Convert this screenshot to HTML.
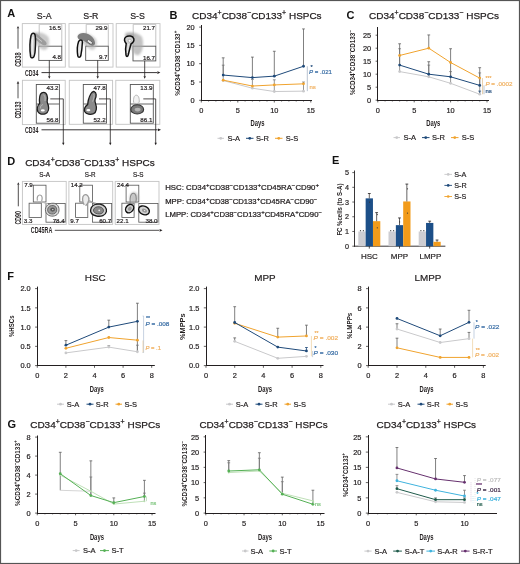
<!DOCTYPE html>
<html><head><meta charset="utf-8"><style>
html,body{margin:0;padding:0;background:#fff;width:520px;height:564px;overflow:hidden}
svg{display:block;font-family:"Liberation Sans", sans-serif;will-change:transform}
</style></head><body>
<svg width="520" height="564" viewBox="0 0 520 564">
<rect x="0.5" y="0.5" width="519" height="563" fill="none" stroke="#555" stroke-width="1.2"/>
<text x="7.30" y="17.40" font-size="11" fill="#111" font-weight="bold">A</text>
<text x="169.60" y="18.90" font-size="11" fill="#111" font-weight="bold">B</text>
<text x="346.50" y="18.50" font-size="11" fill="#111" font-weight="bold">C</text>
<text x="7.30" y="165.20" font-size="11" fill="#111" font-weight="bold">D</text>
<text x="332.00" y="164.00" font-size="11" fill="#111" font-weight="bold">E</text>
<text x="7.30" y="280.00" font-size="11" fill="#111" font-weight="bold">F</text>
<text x="7.50" y="427.80" font-size="11" fill="#111" font-weight="bold">G</text>
<text x="192.10" y="19.40" font-size="9.95" fill="#231f20" stroke="#231f20" stroke-width="0.25" textLength="129.5" lengthAdjust="spacingAndGlyphs"><tspan>CD34</tspan><tspan font-size="6.96" baseline-shift="3.78">+</tspan><tspan>CD38</tspan><tspan font-size="6.96" baseline-shift="3.78">&#8722;</tspan><tspan>CD133</tspan><tspan font-size="6.96" baseline-shift="3.78">+</tspan><tspan> HSPCs</tspan></text>
<line x1="201.50" y1="25.00" x2="201.50" y2="101.00" stroke="#231f20" stroke-width="1.0" />
<line x1="201.00" y1="100.50" x2="312.00" y2="100.50" stroke="#231f20" stroke-width="1.0" />
<line x1="201.30" y1="100.30" x2="201.30" y2="102.50" stroke="#231f20" stroke-width="0.7" />
<text x="201.30" y="112.90" font-size="7.4" fill="#231f20" stroke="#231f20" stroke-width="0.2" text-anchor="middle">0</text>
<line x1="237.80" y1="100.30" x2="237.80" y2="102.50" stroke="#231f20" stroke-width="0.7" />
<text x="237.80" y="112.90" font-size="7.4" fill="#231f20" stroke="#231f20" stroke-width="0.2" text-anchor="middle">5</text>
<line x1="274.30" y1="100.30" x2="274.30" y2="102.50" stroke="#231f20" stroke-width="0.7" />
<text x="274.30" y="112.90" font-size="7.4" fill="#231f20" stroke="#231f20" stroke-width="0.2" text-anchor="middle">10</text>
<line x1="310.80" y1="100.30" x2="310.80" y2="102.50" stroke="#231f20" stroke-width="0.7" />
<text x="310.80" y="112.90" font-size="7.4" fill="#231f20" stroke="#231f20" stroke-width="0.2" text-anchor="middle">15</text>
<line x1="208.60" y1="100.30" x2="208.60" y2="101.60" stroke="#231f20" stroke-width="0.6" />
<line x1="215.90" y1="100.30" x2="215.90" y2="101.60" stroke="#231f20" stroke-width="0.6" />
<line x1="223.20" y1="100.30" x2="223.20" y2="101.60" stroke="#231f20" stroke-width="0.6" />
<line x1="230.50" y1="100.30" x2="230.50" y2="101.60" stroke="#231f20" stroke-width="0.6" />
<line x1="245.10" y1="100.30" x2="245.10" y2="101.60" stroke="#231f20" stroke-width="0.6" />
<line x1="252.40" y1="100.30" x2="252.40" y2="101.60" stroke="#231f20" stroke-width="0.6" />
<line x1="259.70" y1="100.30" x2="259.70" y2="101.60" stroke="#231f20" stroke-width="0.6" />
<line x1="267.00" y1="100.30" x2="267.00" y2="101.60" stroke="#231f20" stroke-width="0.6" />
<line x1="281.60" y1="100.30" x2="281.60" y2="101.60" stroke="#231f20" stroke-width="0.6" />
<line x1="288.90" y1="100.30" x2="288.90" y2="101.60" stroke="#231f20" stroke-width="0.6" />
<line x1="296.20" y1="100.30" x2="296.20" y2="101.60" stroke="#231f20" stroke-width="0.6" />
<line x1="303.50" y1="100.30" x2="303.50" y2="101.60" stroke="#231f20" stroke-width="0.6" />
<line x1="199.10" y1="100.30" x2="201.30" y2="100.30" stroke="#231f20" stroke-width="0.7" />
<text x="194.70" y="103.00" font-size="7.4" fill="#231f20" stroke="#231f20" stroke-width="0.2" text-anchor="end">0</text>
<line x1="199.10" y1="82.00" x2="201.30" y2="82.00" stroke="#231f20" stroke-width="0.7" />
<text x="194.70" y="84.70" font-size="7.4" fill="#231f20" stroke="#231f20" stroke-width="0.2" text-anchor="end">5</text>
<line x1="199.10" y1="63.70" x2="201.30" y2="63.70" stroke="#231f20" stroke-width="0.7" />
<text x="194.70" y="66.40" font-size="7.4" fill="#231f20" stroke="#231f20" stroke-width="0.2" text-anchor="end">10</text>
<line x1="199.10" y1="45.40" x2="201.30" y2="45.40" stroke="#231f20" stroke-width="0.7" />
<text x="194.70" y="48.10" font-size="7.4" fill="#231f20" stroke="#231f20" stroke-width="0.2" text-anchor="end">15</text>
<line x1="199.10" y1="27.10" x2="201.30" y2="27.10" stroke="#231f20" stroke-width="0.7" />
<text x="194.70" y="29.80" font-size="7.4" fill="#231f20" stroke="#231f20" stroke-width="0.2" text-anchor="end">20</text>
<text x="179.60" y="63.30" font-size="7.59" fill="#231f20" font-weight="bold" text-anchor="middle" textLength="65" lengthAdjust="spacingAndGlyphs" transform="rotate(-90 179.60 63.30)"><tspan>%CD34</tspan><tspan font-size="5.31" baseline-shift="2.88">+</tspan><tspan>CD38</tspan><tspan font-size="5.31" baseline-shift="2.88">&#8722;</tspan><tspan>CD133</tspan><tspan font-size="5.31" baseline-shift="2.88">+</tspan></text>
<text x="257.50" y="126.30" font-size="8.6" fill="#231f20" text-anchor="middle" font-weight="bold" textLength="14" lengthAdjust="spacingAndGlyphs">Days</text>
<line x1="223.20" y1="75.41" x2="223.20" y2="57.84" stroke="#606060" stroke-width="0.8" />
<line x1="221.80" y1="57.84" x2="224.60" y2="57.84" stroke="#606060" stroke-width="0.8" />
<line x1="252.40" y1="77.61" x2="252.40" y2="57.11" stroke="#606060" stroke-width="0.8" />
<line x1="251.00" y1="57.11" x2="253.80" y2="57.11" stroke="#606060" stroke-width="0.8" />
<line x1="274.30" y1="76.51" x2="274.30" y2="51.26" stroke="#606060" stroke-width="0.8" />
<line x1="272.90" y1="51.26" x2="275.70" y2="51.26" stroke="#606060" stroke-width="0.8" />
<line x1="303.50" y1="66.26" x2="303.50" y2="28.93" stroke="#606060" stroke-width="0.8" />
<line x1="302.10" y1="28.93" x2="304.90" y2="28.93" stroke="#606060" stroke-width="0.8" />
<line x1="223.20" y1="80.90" x2="223.20" y2="65.16" stroke="#6a6a6a" stroke-width="0.7" />
<line x1="221.80" y1="65.16" x2="224.60" y2="65.16" stroke="#6a6a6a" stroke-width="0.7" />
<line x1="252.40" y1="88.22" x2="252.40" y2="79.44" stroke="#6a6a6a" stroke-width="0.7" />
<line x1="251.00" y1="79.44" x2="253.80" y2="79.44" stroke="#6a6a6a" stroke-width="0.7" />
<line x1="274.30" y1="91.52" x2="274.30" y2="79.80" stroke="#6a6a6a" stroke-width="0.7" />
<line x1="272.90" y1="79.80" x2="275.70" y2="79.80" stroke="#6a6a6a" stroke-width="0.7" />
<line x1="303.50" y1="91.15" x2="303.50" y2="82.00" stroke="#6a6a6a" stroke-width="0.7" />
<line x1="302.10" y1="82.00" x2="304.90" y2="82.00" stroke="#6a6a6a" stroke-width="0.7" />
<polyline points="223.20,80.54 252.40,88.22 274.30,91.52 303.50,91.15" stroke="#c9c9cb" stroke-width="1.0" fill="none" stroke-linejoin="round" />
<circle cx="223.20" cy="80.54" r="1.4" fill="#c9c9cb" />
<circle cx="252.40" cy="88.22" r="1.4" fill="#c9c9cb" />
<circle cx="274.30" cy="91.52" r="1.4" fill="#c9c9cb" />
<circle cx="303.50" cy="91.15" r="1.4" fill="#c9c9cb" />
<polyline points="223.20,80.17 252.40,86.03 274.30,84.93 303.50,83.83" stroke="#f0a32e" stroke-width="1.0" fill="none" stroke-linejoin="round" />
<circle cx="223.20" cy="80.17" r="1.4" fill="#f0a32e" />
<circle cx="252.40" cy="86.03" r="1.4" fill="#f0a32e" />
<circle cx="274.30" cy="84.93" r="1.4" fill="#f0a32e" />
<circle cx="303.50" cy="83.83" r="1.4" fill="#f0a32e" />
<polyline points="223.20,75.05 252.40,77.61 274.30,76.14 303.50,66.26" stroke="#1f4a7a" stroke-width="1.0" fill="none" stroke-linejoin="round" />
<circle cx="223.20" cy="75.05" r="1.4" fill="#1f4a7a" />
<circle cx="252.40" cy="77.61" r="1.4" fill="#1f4a7a" />
<circle cx="274.30" cy="76.14" r="1.4" fill="#1f4a7a" />
<circle cx="303.50" cy="66.26" r="1.4" fill="#1f4a7a" />
<line x1="307.30" y1="66.26" x2="307.30" y2="91.15" stroke="#8a9ab0" stroke-width="0.6" />
<text x="310.50" y="68.50" font-size="5.5" fill="#1f4a7a" stroke="#1f4a7a" stroke-width="0.2">*</text>
<text x="309.00" y="74.20" font-size="6.2" fill="#3a6ea5" stroke="#3a6ea5" stroke-width="0.2" textLength="23" lengthAdjust="spacingAndGlyphs"><tspan font-style="italic">P</tspan> = .021</text>
<text x="309.50" y="88.60" font-size="6.0" fill="#f0b060" stroke="#f0b060" stroke-width="0.2">ns</text>
<line x1="217.50" y1="138.30" x2="224.00" y2="138.30" stroke="#c9c9cb" stroke-width="1.0" />
<circle cx="220.75" cy="138.30" r="1.4" fill="#c9c9cb" />
<text x="227.50" y="141.00" font-size="7.5" fill="#231f20" stroke="#231f20" stroke-width="0.2">S-A</text>
<line x1="246.00" y1="138.30" x2="253.50" y2="138.30" stroke="#1f4a7a" stroke-width="1.0" />
<circle cx="249.75" cy="138.30" r="1.4" fill="#1f4a7a" />
<text x="256.00" y="141.00" font-size="7.5" fill="#231f20" stroke="#231f20" stroke-width="0.2">S-R</text>
<line x1="275.00" y1="138.30" x2="282.50" y2="138.30" stroke="#f0a32e" stroke-width="1.0" />
<circle cx="278.75" cy="138.30" r="1.4" fill="#f0a32e" />
<text x="285.70" y="141.00" font-size="7.5" fill="#231f20" stroke="#231f20" stroke-width="0.2">S-S</text>
<text x="369.00" y="19.20" font-size="9.95" fill="#231f20" stroke="#231f20" stroke-width="0.25" textLength="130" lengthAdjust="spacingAndGlyphs"><tspan>CD34</tspan><tspan font-size="6.96" baseline-shift="3.78">+</tspan><tspan>CD38</tspan><tspan font-size="6.96" baseline-shift="3.78">&#8722;</tspan><tspan>CD133</tspan><tspan font-size="6.96" baseline-shift="3.78">&#8722;</tspan><tspan> HSPCs</tspan></text>
<line x1="377.50" y1="27.00" x2="377.50" y2="101.00" stroke="#231f20" stroke-width="1.0" />
<line x1="377.00" y1="100.50" x2="489.00" y2="100.50" stroke="#231f20" stroke-width="1.0" />
<line x1="377.80" y1="100.20" x2="377.80" y2="102.40" stroke="#231f20" stroke-width="0.7" />
<text x="377.80" y="112.80" font-size="7.4" fill="#231f20" stroke="#231f20" stroke-width="0.2" text-anchor="middle">0</text>
<line x1="414.20" y1="100.20" x2="414.20" y2="102.40" stroke="#231f20" stroke-width="0.7" />
<text x="414.20" y="112.80" font-size="7.4" fill="#231f20" stroke="#231f20" stroke-width="0.2" text-anchor="middle">5</text>
<line x1="450.60" y1="100.20" x2="450.60" y2="102.40" stroke="#231f20" stroke-width="0.7" />
<text x="450.60" y="112.80" font-size="7.4" fill="#231f20" stroke="#231f20" stroke-width="0.2" text-anchor="middle">10</text>
<line x1="487.00" y1="100.20" x2="487.00" y2="102.40" stroke="#231f20" stroke-width="0.7" />
<text x="487.00" y="112.80" font-size="7.4" fill="#231f20" stroke="#231f20" stroke-width="0.2" text-anchor="middle">15</text>
<line x1="385.08" y1="100.20" x2="385.08" y2="101.50" stroke="#231f20" stroke-width="0.6" />
<line x1="392.36" y1="100.20" x2="392.36" y2="101.50" stroke="#231f20" stroke-width="0.6" />
<line x1="399.64" y1="100.20" x2="399.64" y2="101.50" stroke="#231f20" stroke-width="0.6" />
<line x1="406.92" y1="100.20" x2="406.92" y2="101.50" stroke="#231f20" stroke-width="0.6" />
<line x1="421.48" y1="100.20" x2="421.48" y2="101.50" stroke="#231f20" stroke-width="0.6" />
<line x1="428.76" y1="100.20" x2="428.76" y2="101.50" stroke="#231f20" stroke-width="0.6" />
<line x1="436.04" y1="100.20" x2="436.04" y2="101.50" stroke="#231f20" stroke-width="0.6" />
<line x1="443.32" y1="100.20" x2="443.32" y2="101.50" stroke="#231f20" stroke-width="0.6" />
<line x1="457.88" y1="100.20" x2="457.88" y2="101.50" stroke="#231f20" stroke-width="0.6" />
<line x1="465.16" y1="100.20" x2="465.16" y2="101.50" stroke="#231f20" stroke-width="0.6" />
<line x1="472.44" y1="100.20" x2="472.44" y2="101.50" stroke="#231f20" stroke-width="0.6" />
<line x1="479.72" y1="100.20" x2="479.72" y2="101.50" stroke="#231f20" stroke-width="0.6" />
<line x1="375.60" y1="100.20" x2="377.80" y2="100.20" stroke="#231f20" stroke-width="0.7" />
<text x="371.20" y="102.90" font-size="7.4" fill="#231f20" stroke="#231f20" stroke-width="0.2" text-anchor="end">0</text>
<line x1="375.60" y1="87.20" x2="377.80" y2="87.20" stroke="#231f20" stroke-width="0.7" />
<text x="371.20" y="89.90" font-size="7.4" fill="#231f20" stroke="#231f20" stroke-width="0.2" text-anchor="end">5</text>
<line x1="375.60" y1="74.20" x2="377.80" y2="74.20" stroke="#231f20" stroke-width="0.7" />
<text x="371.20" y="76.90" font-size="7.4" fill="#231f20" stroke="#231f20" stroke-width="0.2" text-anchor="end">10</text>
<line x1="375.60" y1="61.20" x2="377.80" y2="61.20" stroke="#231f20" stroke-width="0.7" />
<text x="371.20" y="63.90" font-size="7.4" fill="#231f20" stroke="#231f20" stroke-width="0.2" text-anchor="end">15</text>
<line x1="375.60" y1="48.20" x2="377.80" y2="48.20" stroke="#231f20" stroke-width="0.7" />
<text x="371.20" y="50.90" font-size="7.4" fill="#231f20" stroke="#231f20" stroke-width="0.2" text-anchor="end">20</text>
<line x1="375.60" y1="35.20" x2="377.80" y2="35.20" stroke="#231f20" stroke-width="0.7" />
<text x="371.20" y="37.90" font-size="7.4" fill="#231f20" stroke="#231f20" stroke-width="0.2" text-anchor="end">25</text>
<text x="355.50" y="62.60" font-size="7.59" fill="#231f20" font-weight="bold" text-anchor="middle" textLength="65" lengthAdjust="spacingAndGlyphs" transform="rotate(-90 355.50 62.60)"><tspan>%CD34</tspan><tspan font-size="5.31" baseline-shift="2.88">+</tspan><tspan>CD38</tspan><tspan font-size="5.31" baseline-shift="2.88">&#8722;</tspan><tspan>CD133</tspan><tspan font-size="5.31" baseline-shift="2.88">&#8722;</tspan></text>
<text x="433.30" y="126.30" font-size="8.6" fill="#231f20" text-anchor="middle" font-weight="bold" textLength="14" lengthAdjust="spacingAndGlyphs">Days</text>
<line x1="399.64" y1="65.10" x2="399.64" y2="43.78" stroke="#606060" stroke-width="0.8" />
<line x1="398.24" y1="43.78" x2="401.04" y2="43.78" stroke="#606060" stroke-width="0.8" />
<line x1="428.76" y1="74.20" x2="428.76" y2="61.72" stroke="#606060" stroke-width="0.8" />
<line x1="427.36" y1="61.72" x2="430.16" y2="61.72" stroke="#606060" stroke-width="0.8" />
<line x1="450.60" y1="76.80" x2="450.60" y2="48.72" stroke="#606060" stroke-width="0.8" />
<line x1="449.20" y1="48.72" x2="452.00" y2="48.72" stroke="#606060" stroke-width="0.8" />
<line x1="479.72" y1="85.38" x2="479.72" y2="67.70" stroke="#606060" stroke-width="0.8" />
<line x1="478.32" y1="67.70" x2="481.12" y2="67.70" stroke="#606060" stroke-width="0.8" />
<line x1="399.64" y1="71.60" x2="399.64" y2="48.72" stroke="#6a6a6a" stroke-width="0.7" />
<line x1="398.24" y1="48.72" x2="401.04" y2="48.72" stroke="#6a6a6a" stroke-width="0.7" />
<line x1="428.76" y1="76.80" x2="428.76" y2="65.10" stroke="#6a6a6a" stroke-width="0.7" />
<line x1="427.36" y1="65.10" x2="430.16" y2="65.10" stroke="#6a6a6a" stroke-width="0.7" />
<line x1="450.60" y1="83.30" x2="450.60" y2="71.60" stroke="#6a6a6a" stroke-width="0.7" />
<line x1="449.20" y1="71.60" x2="452.00" y2="71.60" stroke="#6a6a6a" stroke-width="0.7" />
<line x1="479.72" y1="94.22" x2="479.72" y2="72.90" stroke="#6a6a6a" stroke-width="0.7" />
<line x1="478.32" y1="72.90" x2="481.12" y2="72.90" stroke="#6a6a6a" stroke-width="0.7" />
<line x1="428.76" y1="48.20" x2="428.76" y2="34.94" stroke="#606060" stroke-width="0.8" />
<line x1="427.36" y1="34.94" x2="430.16" y2="34.94" stroke="#606060" stroke-width="0.8" />
<line x1="479.72" y1="94.22" x2="479.72" y2="91.10" stroke="#1f4a7a" stroke-width="0.8" />
<line x1="478.32" y1="91.10" x2="481.12" y2="91.10" stroke="#1f4a7a" stroke-width="0.8" />
<polyline points="399.64,71.60 428.76,76.80 450.60,83.30 479.72,94.22" stroke="#c9c9cb" stroke-width="1.0" fill="none" stroke-linejoin="round" />
<circle cx="399.64" cy="71.60" r="1.4" fill="#c9c9cb" />
<circle cx="428.76" cy="76.80" r="1.4" fill="#c9c9cb" />
<circle cx="450.60" cy="83.30" r="1.4" fill="#c9c9cb" />
<circle cx="479.72" cy="94.22" r="1.4" fill="#c9c9cb" />
<polyline points="399.64,65.10 428.76,74.20 450.60,76.80 479.72,85.38" stroke="#1f4a7a" stroke-width="1.0" fill="none" stroke-linejoin="round" />
<circle cx="399.64" cy="65.10" r="1.4" fill="#1f4a7a" />
<circle cx="428.76" cy="74.20" r="1.4" fill="#1f4a7a" />
<circle cx="450.60" cy="76.80" r="1.4" fill="#1f4a7a" />
<circle cx="479.72" cy="85.38" r="1.4" fill="#1f4a7a" />
<polyline points="399.64,55.48 428.76,48.20 450.60,62.50 479.72,78.10" stroke="#f0a32e" stroke-width="1.0" fill="none" stroke-linejoin="round" />
<circle cx="399.64" cy="55.48" r="1.4" fill="#f0a32e" />
<circle cx="428.76" cy="48.20" r="1.4" fill="#f0a32e" />
<circle cx="450.60" cy="62.50" r="1.4" fill="#f0a32e" />
<circle cx="479.72" cy="78.10" r="1.4" fill="#f0a32e" />
<line x1="482.50" y1="78.10" x2="482.50" y2="94.22" stroke="#d9b27a" stroke-width="0.6" />
<line x1="484.00" y1="85.38" x2="484.00" y2="94.22" stroke="#8a9ab0" stroke-width="0.6" />
<text x="485.50" y="80.00" font-size="5.0" fill="#f0b060" stroke="#f0b060" stroke-width="0.2">***</text>
<text x="485.40" y="86.20" font-size="6.2" fill="#f0b060" stroke="#f0b060" stroke-width="0.2" textLength="27" lengthAdjust="spacingAndGlyphs"><tspan font-style="italic">P</tspan> = .0002</text>
<text x="485.50" y="93.20" font-size="6.0" fill="#1f4a7a" stroke="#1f4a7a" stroke-width="0.2">ns</text>
<line x1="393.50" y1="137.60" x2="400.00" y2="137.60" stroke="#c9c9cb" stroke-width="1.0" />
<circle cx="396.75" cy="137.60" r="1.4" fill="#c9c9cb" />
<text x="403.50" y="140.30" font-size="7.5" fill="#231f20" stroke="#231f20" stroke-width="0.2">S-A</text>
<line x1="422.00" y1="137.60" x2="429.50" y2="137.60" stroke="#1f4a7a" stroke-width="1.0" />
<circle cx="425.75" cy="137.60" r="1.4" fill="#1f4a7a" />
<text x="432.00" y="140.30" font-size="7.5" fill="#231f20" stroke="#231f20" stroke-width="0.2">S-R</text>
<line x1="451.00" y1="137.60" x2="458.50" y2="137.60" stroke="#f0a32e" stroke-width="1.0" />
<circle cx="454.75" cy="137.60" r="1.4" fill="#f0a32e" />
<text x="461.70" y="140.30" font-size="7.5" fill="#231f20" stroke="#231f20" stroke-width="0.2">S-S</text>
<text x="44.20" y="19.20" font-size="8.8" fill="#231f20" stroke="#231f20" stroke-width="0.2" text-anchor="middle">S-A</text>
<text x="90.90" y="19.20" font-size="8.8" fill="#231f20" stroke="#231f20" stroke-width="0.2" text-anchor="middle">S-R</text>
<text x="137.60" y="19.20" font-size="8.8" fill="#231f20" stroke="#231f20" stroke-width="0.2" text-anchor="middle">S-S</text>
<defs><filter id="bl" x="-50%" y="-50%" width="200%" height="200%"><feGaussianBlur stdDeviation="1.3"/></filter><filter id="bl2" x="-50%" y="-50%" width="200%" height="200%"><feGaussianBlur stdDeviation="0.6"/></filter></defs>
<rect x="22.30" y="23.60" width="43.00" height="43.50" stroke="#c4c4c4" stroke-width="0.9" fill="none" />
<rect x="69.00" y="23.60" width="44.00" height="43.50" stroke="#c4c4c4" stroke-width="0.9" fill="none" />
<rect x="116.20" y="23.60" width="43.80" height="43.50" stroke="#c4c4c4" stroke-width="0.9" fill="none" />
<path d="M39.2,46.2 L39.2,24.3 L61.8,24.3 L61.8,46.2" stroke="#bdbdbd" stroke-width="0.9" fill="none" />
<rect x="38.80" y="46.20" width="23.00" height="14.20" stroke="#555555" stroke-width="0.9" fill="none" />
<text x="61.00" y="30.30" font-size="6.2" fill="#231f20" stroke="#231f20" stroke-width="0.2" text-anchor="end">16.5</text>
<text x="61.00" y="59.40" font-size="6.2" fill="#231f20" stroke="#231f20" stroke-width="0.2" text-anchor="end">4.8</text>
<line x1="49.30" y1="60.40" x2="49.30" y2="76.50" stroke="#231f20" stroke-width="0.8" />
<path d="M49.30,78.80 L48.10,76.24 L50.50,76.24 Z" stroke="none" stroke-width="1" fill="#231f20" />
<path d="M86.2,46.2 L86.2,24.3 L108.3,24.3 L108.3,46.2" stroke="#bdbdbd" stroke-width="0.9" fill="none" />
<rect x="85.70" y="46.20" width="22.60" height="14.20" stroke="#555555" stroke-width="0.9" fill="none" />
<text x="107.50" y="30.30" font-size="6.2" fill="#231f20" stroke="#231f20" stroke-width="0.2" text-anchor="end">29.9</text>
<text x="107.50" y="59.40" font-size="6.2" fill="#231f20" stroke="#231f20" stroke-width="0.2" text-anchor="end">9.7</text>
<line x1="97.70" y1="60.40" x2="97.70" y2="76.50" stroke="#231f20" stroke-width="0.8" />
<path d="M97.70,78.80 L96.50,76.24 L98.90,76.24 Z" stroke="none" stroke-width="1" fill="#231f20" />
<path d="M133.2,46.2 L133.2,24.3 L155.8,24.3 L155.8,46.2" stroke="#bdbdbd" stroke-width="0.9" fill="none" />
<rect x="133.00" y="46.20" width="22.80" height="14.70" stroke="#555555" stroke-width="0.9" fill="none" />
<text x="155.00" y="30.30" font-size="6.2" fill="#231f20" stroke="#231f20" stroke-width="0.2" text-anchor="end">21.7</text>
<text x="155.00" y="59.90" font-size="6.2" fill="#231f20" stroke="#231f20" stroke-width="0.2" text-anchor="end">16.7</text>
<line x1="144.70" y1="60.90" x2="144.70" y2="76.50" stroke="#231f20" stroke-width="0.8" />
<path d="M144.70,78.80 L143.50,76.24 L145.90,76.24 Z" stroke="none" stroke-width="1" fill="#231f20" />
<g filter="url(#bl)" opacity="0.7"><path d="M32,33 C38,31 45,33 48.5,37 C50,42 49,49 45,50 C41,50.5 37,46 35,41 Z" fill="#b4b4b4"/><ellipse cx="36" cy="36" rx="3.5" ry="3" fill="#999"/></g>
<g filter="url(#bl2)"><path d="M31.2,35 C32.4,32.2 35,32 37.4,34.2 L44.6,40.4 C47,42.4 47.4,44.6 45.2,45.2 C43,45.6 40,43.2 37.6,41.2 L35,39 Z" fill="#9c9c9c"/><path d="M34.4,35.6 L42,41.6" stroke="#d8d8d8" stroke-width="0.8"/></g>
<path d="M30.6,56.4 C29.6,49 29.8,41 31,35.6 C31.6,32.6 34.2,32.4 35,34.8 C35.8,38 35.6,44 35.2,50 C35,54 34.6,57.2 32.6,57.8 C31.6,58 30.8,57.4 30.6,56.4 Z" stroke="#141414" stroke-width="1.5" fill="#d4d4d4" filter="url(#bl2)"/>
<path d="M32.4,54.8 C32,48 32.2,42 33,37" stroke="#f6f6f6" stroke-width="0.9" fill="none" filter="url(#bl2)"/>
<g filter="url(#bl)" opacity="0.6"><path d="M78,35 C84,31 92,34 96,39 C98,44 96,50 92,50 C88,49 84,44 80,41 Z" fill="#b0b0b0"/></g>
<g filter="url(#bl2)"><path d="M77.6,36 C79,32.6 84,32.2 88,34 C92,36 95.2,39.6 95,43.6 C94.6,46 92,46 90,45 C87,43 84,40.6 81.6,40 C79.6,39.6 77.2,39 77.6,36 Z" fill="#7e7e7e"/></g>
<g filter="url(#bl2)"><ellipse cx="89.8" cy="42" rx="3.2" ry="1.5" transform="rotate(38 89.8 42)" fill="#e8e8e8" stroke="#555" stroke-width="0.8"/></g>
<path d="M77.8,55.8 C77,51 77.2,45.5 78.6,41.6 C79.6,39.4 82.4,39.4 82.4,42 C82.2,47 81.6,52 80.8,55.8 C80.2,57.8 78.2,57.8 77.8,55.8 Z" stroke="#111" stroke-width="1.5" fill="#e8e8e8" filter="url(#bl2)"/>
<g filter="url(#bl)" opacity="0.7"><path d="M125,33 C131,31 139,33 142,37 C144,43 143,52 139,55 C135,56 132,52 131,46 Z" fill="#a8a8a8"/><ellipse cx="130" cy="36" rx="5" ry="3" fill="#8a8a8a"/></g>
<path d="M126,55 C125.2,50.5 125.6,46.5 126.2,43.6 C124.2,41.6 123.8,38.4 125.8,37 C128.4,35.2 132.8,35.8 133.8,38.8 C134.4,41 132.6,43 131,44 C130,47.6 129,51.6 128.2,55 C127.6,57 126.4,57 126,55 Z" stroke="#111" stroke-width="1.5" fill="#d0d0d0" filter="url(#bl2)"/>
<path d="M128,39.8 C129.4,38.8 131.4,39.4 131.2,40.8 C131,42 129.6,42.4 128.6,42 Z" stroke="#888" stroke-width="0.5" fill="#fafafa" />
<path d="M127.4,53 C127.6,49 128.2,46 128.6,44" stroke="#f0f0f0" stroke-width="0.8" fill="none" filter="url(#bl2)"/>
<text x="38.40" y="75.70" font-size="8.2" fill="#231f20" text-anchor="end" font-weight="bold" textLength="13.4" lengthAdjust="spacingAndGlyphs">CD34</text>
<line x1="41.50" y1="72.60" x2="157.00" y2="72.60" stroke="#231f20" stroke-width="0.9" />
<path d="M160.40,72.60 L157.36,71.17 L157.36,74.02 Z" stroke="none" stroke-width="1" fill="#231f20" />
<text x="21.00" y="66.80" font-size="8.28" fill="#231f20" font-weight="bold" textLength="14.4" lengthAdjust="spacingAndGlyphs" transform="rotate(-90 21.00 66.80)"><tspan>CD38</tspan></text>
<line x1="18.00" y1="48.70" x2="18.00" y2="29.00" stroke="#555" stroke-width="1.0" />
<path d="M18.00,25.90 L16.73,28.62 L19.27,28.62 Z" stroke="none" stroke-width="1" fill="#231f20" />
<rect x="22.40" y="80.30" width="42.80" height="44.30" stroke="#c4c4c4" stroke-width="0.9" fill="none" />
<rect x="69.30" y="80.30" width="43.30" height="44.00" stroke="#c4c4c4" stroke-width="0.9" fill="none" />
<rect x="115.80" y="80.30" width="44.00" height="44.00" stroke="#c4c4c4" stroke-width="0.9" fill="none" />
<rect x="36.30" y="84.50" width="23.10" height="38.70" stroke="#555555" stroke-width="0.9" fill="none" />
<line x1="36.30" y1="104.00" x2="59.40" y2="104.00" stroke="#555555" stroke-width="0.9" />
<text x="58.50" y="89.90" font-size="6.2" fill="#231f20" stroke="#231f20" stroke-width="0.2" text-anchor="end">43.2</text>
<text x="58.50" y="122.40" font-size="6.2" fill="#231f20" stroke="#231f20" stroke-width="0.2" text-anchor="end">56.8</text>
<path d="M50.3,98.9 L63.3,98.9 L63.3,143" stroke="#231f20" stroke-width="0.8" fill="none" />
<path d="M63.30,145.30 L62.10,142.74 L64.50,142.74 Z" stroke="none" stroke-width="1" fill="#231f20" />
<rect x="83.30" y="84.50" width="23.20" height="38.70" stroke="#555555" stroke-width="0.9" fill="none" />
<line x1="83.30" y1="104.00" x2="106.50" y2="104.00" stroke="#555555" stroke-width="0.9" />
<text x="105.60" y="89.90" font-size="6.2" fill="#231f20" stroke="#231f20" stroke-width="0.2" text-anchor="end">47.8</text>
<text x="105.60" y="122.40" font-size="6.2" fill="#231f20" stroke="#231f20" stroke-width="0.2" text-anchor="end">52.2</text>
<path d="M99.0,98.9 L110.3,98.9 L110.3,143" stroke="#231f20" stroke-width="0.8" fill="none" />
<path d="M110.30,145.30 L109.10,142.74 L111.50,142.74 Z" stroke="none" stroke-width="1" fill="#231f20" />
<rect x="130.30" y="84.50" width="23.00" height="38.70" stroke="#555555" stroke-width="0.9" fill="none" />
<line x1="130.30" y1="104.00" x2="153.30" y2="104.00" stroke="#555555" stroke-width="0.9" />
<text x="152.40" y="89.90" font-size="6.2" fill="#231f20" stroke="#231f20" stroke-width="0.2" text-anchor="end">13.9</text>
<text x="152.40" y="122.40" font-size="6.2" fill="#231f20" stroke="#231f20" stroke-width="0.2" text-anchor="end">86.1</text>
<path d="M143.3,98.9 L155.7,98.9 L155.7,143" stroke="#231f20" stroke-width="0.8" fill="none" />
<path d="M155.70,145.30 L154.50,142.74 L156.90,142.74 Z" stroke="none" stroke-width="1" fill="#231f20" />
<g filter="url(#bl2)"><path d="M43.6,92.4 C46.8,92.4 48,96.5 47.2,100.5 C46.8,102.2 47.6,103.2 48.2,105 C49.2,108.6 48.4,112.4 45.6,113.6 C42.6,114.8 39,114.2 37.8,111.6 C36.8,109 37.6,105.4 39.6,103.6 C39.8,102.6 39.4,101.6 39.4,100 C39.4,95.6 40.8,92.4 43.6,92.4 Z" fill="#8a8a8a" stroke="#1e1e1e" stroke-width="1.3"/><path d="M43.4,95 C45,95 45.4,98 45,101 M43,104.5 C41,105 40,107 40.6,108.4" fill="none" stroke="#c8c8c8" stroke-width="0.7"/><ellipse cx="42.8" cy="110.4" rx="2" ry="1.1" fill="#fff"/></g>
<g filter="url(#bl2)"><path d="M94.2,91.6 C96.6,92.4 96.6,96 95.2,99 C94.6,100.6 94.8,102.2 95.6,103.8 C97,107.6 96.6,112 93.6,113.6 C90.6,115 86.2,114.4 84.8,111.8 C83.8,109.4 85,106 87.6,104.6 C88,103.8 87.8,102.2 88.4,100 C89.6,95.4 91.8,90.8 94.2,91.6 Z" fill="#8a8a8a" stroke="#1e1e1e" stroke-width="1.3"/><path d="M93.6,94 C94.6,95 94,98.4 92.6,101.6" fill="none" stroke="#c8c8c8" stroke-width="0.7"/><ellipse cx="88.4" cy="110.2" rx="2" ry="1.1" fill="#fff"/></g>
<g filter="url(#bl2)"><path d="M136.3,95.2 C138.4,95.2 139.6,98 139.2,102.4 C138.6,104 134,104 133.6,102.4 C133.2,98 134.2,95.2 136.3,95.2 Z" fill="#f2f2f2" stroke="#b0b0b0" stroke-width="0.9"/><ellipse cx="137.2" cy="109.4" rx="6.4" ry="4.6" fill="#7a7a7a" stroke="#333" stroke-width="1.1"/><ellipse cx="137.6" cy="109.6" rx="3" ry="1.8" fill="#b5b5b5"/></g>
<text x="38.40" y="133.00" font-size="8.2" fill="#231f20" text-anchor="end" font-weight="bold" textLength="13.4" lengthAdjust="spacingAndGlyphs">CD34</text>
<line x1="41.50" y1="129.80" x2="157.50" y2="129.80" stroke="#231f20" stroke-width="0.9" />
<path d="M161.00,129.80 L157.96,128.38 L157.96,131.23 Z" stroke="none" stroke-width="1" fill="#231f20" />
<text x="21.00" y="118.60" font-size="8.28" fill="#231f20" font-weight="bold" textLength="17.1" lengthAdjust="spacingAndGlyphs" transform="rotate(-90 21.00 118.60)"><tspan>CD133</tspan></text>
<line x1="18.00" y1="98.30" x2="18.00" y2="84.00" stroke="#555" stroke-width="1.0" />
<path d="M18.00,81.00 L16.73,83.72 L19.27,83.72 Z" stroke="none" stroke-width="1" fill="#231f20" />
<text x="25.20" y="165.60" font-size="9.95" fill="#231f20" stroke="#231f20" stroke-width="0.25" textLength="129.5" lengthAdjust="spacingAndGlyphs"><tspan>CD34</tspan><tspan font-size="6.96" baseline-shift="3.78">+</tspan><tspan>CD38</tspan><tspan font-size="6.96" baseline-shift="3.78">&#8722;</tspan><tspan>CD133</tspan><tspan font-size="6.96" baseline-shift="3.78">+</tspan><tspan> HSPCs</tspan></text>
<text x="44.60" y="176.80" font-size="6.3" fill="#231f20" stroke="#231f20" stroke-width="0.2" text-anchor="middle">S-A</text>
<text x="90.20" y="176.80" font-size="6.3" fill="#231f20" stroke="#231f20" stroke-width="0.2" text-anchor="middle">S-R</text>
<text x="138.20" y="176.80" font-size="6.3" fill="#231f20" stroke="#231f20" stroke-width="0.2" text-anchor="middle">S-S</text>
<rect x="22.40" y="181.40" width="43.80" height="43.00" stroke="#c4c4c4" stroke-width="0.9" fill="none" />
<rect x="68.90" y="181.40" width="43.80" height="43.00" stroke="#c4c4c4" stroke-width="0.9" fill="none" />
<rect x="115.20" y="181.40" width="43.80" height="43.00" stroke="#c4c4c4" stroke-width="0.9" fill="none" />
<rect x="33.30" y="185.20" width="12.70" height="16.80" stroke="#555555" stroke-width="0.8" fill="none" />
<rect x="29.10" y="203.20" width="12.20" height="14.20" stroke="#555555" stroke-width="0.8" fill="none" />
<rect x="46.00" y="203.50" width="19.20" height="18.70" stroke="#555555" stroke-width="0.8" fill="none" />
<text x="24.20" y="187.40" font-size="6.2" fill="#231f20" stroke="#231f20" stroke-width="0.2">7.9</text>
<text x="23.80" y="222.60" font-size="6.2" fill="#231f20" stroke="#231f20" stroke-width="0.2">3.3</text>
<text x="64.70" y="222.60" font-size="6.2" fill="#231f20" stroke="#231f20" stroke-width="0.2" text-anchor="end">78.4</text>
<rect x="79.80" y="185.20" width="12.70" height="16.80" stroke="#555555" stroke-width="0.8" fill="none" />
<rect x="75.60" y="203.20" width="12.20" height="14.20" stroke="#555555" stroke-width="0.8" fill="none" />
<rect x="92.50" y="203.50" width="19.20" height="18.70" stroke="#555555" stroke-width="0.8" fill="none" />
<text x="70.70" y="187.40" font-size="6.2" fill="#231f20" stroke="#231f20" stroke-width="0.2">14.2</text>
<text x="70.30" y="222.60" font-size="6.2" fill="#231f20" stroke="#231f20" stroke-width="0.2">9.7</text>
<text x="111.20" y="222.60" font-size="6.2" fill="#231f20" stroke="#231f20" stroke-width="0.2" text-anchor="end">60.7</text>
<rect x="126.10" y="185.20" width="12.70" height="16.80" stroke="#555555" stroke-width="0.8" fill="none" />
<rect x="121.90" y="203.20" width="12.20" height="14.20" stroke="#555555" stroke-width="0.8" fill="none" />
<rect x="138.80" y="203.50" width="19.20" height="18.70" stroke="#555555" stroke-width="0.8" fill="none" />
<text x="117.00" y="187.40" font-size="6.2" fill="#231f20" stroke="#231f20" stroke-width="0.2">24.4</text>
<text x="116.60" y="222.60" font-size="6.2" fill="#231f20" stroke="#231f20" stroke-width="0.2">22.1</text>
<text x="157.50" y="222.60" font-size="6.2" fill="#231f20" stroke="#231f20" stroke-width="0.2" text-anchor="end">38.0</text>
<g filter="url(#bl2)"><path d="M37.4,200.6 C36.6,197 38,194.8 40,195 C42.4,195.2 42.6,198.4 41.6,201" fill="none" stroke="#a0a0a0" stroke-width="1.2"/><path d="M41.6,201 C43.6,203.4 45.6,203.6 47.8,203.4" fill="none" stroke="#b8b8b8" stroke-width="1.1"/><path d="M45.4,209.4 C46,204.6 50.6,202.6 54.6,203.4 C58.6,204.4 59.8,209 58.6,212.4 C57.2,216 52.4,217 48.8,215.4 C46.6,214.2 45.2,212 45.4,209.4 Z" fill="#d8d8d8" stroke="#6a6a6a" stroke-width="1.0"/><path d="M47.6,209.4 C48,206.2 51,205 53.8,205.6 C56.6,206.4 57.2,209.4 56.4,211.6 C55.4,214 52.4,214.6 50,213.6 C48.4,212.8 47.4,211.2 47.6,209.4 Z" fill="#9a9a9a" stroke="#555" stroke-width="0.8"/><ellipse cx="52.6" cy="209.6" rx="2.4" ry="2.1" fill="#5a5a5a"/><circle cx="52.8" cy="209.6" r="0.7" fill="#f0f0f0"/></g>
<g filter="url(#bl2)"><path d="M84.2,204.8 C82,201.4 82,196.4 84.2,195 C86.6,193.6 89.4,196.4 88.8,200.2 C88.4,202.8 87,204.6 85.6,205.8" fill="#ececec" stroke="#9a9a9a" stroke-width="1.3"/><path d="M88.8,200.2 C91.4,202.6 93.6,203 96,203.4" fill="none" stroke="#aaa" stroke-width="1.2"/><path d="M90.6,210 C91.4,205.4 95.6,203.6 100,204.2 C104.6,205 107,208.2 106.4,211.6 C105.6,215.4 101,216.8 96.6,216 C92.8,215.2 90.2,212.8 90.6,210 Z" fill="#cfcfcf" stroke="#1e1e1e" stroke-width="1.3"/><path d="M93.4,210 C94,207.4 96.8,206.4 99.6,206.8 C102.6,207.4 103.8,209.4 103.4,211.4 C102.8,213.6 100,214.4 97.4,213.8 C95,213.4 93.2,211.8 93.4,210 Z" fill="#8a8a8a" stroke="#444" stroke-width="0.8"/><circle cx="99.2" cy="210.4" r="0.8" fill="#f0f0f0"/></g>
<g filter="url(#bl)" opacity="0.6"><ellipse cx="134" cy="198" rx="4.5" ry="6" fill="#a0a0a0"/></g>
<g filter="url(#bl2)"><path d="M130.2,203 C129.6,198 130.6,193.4 133.2,193.2 C135.8,193 137,197.6 135.8,202.6" fill="none" stroke="#8a8a8a" stroke-width="1.1"/><ellipse cx="129.6" cy="208.6" rx="3.6" ry="4.6" transform="rotate(40 129.6 208.6)" fill="#cfcfcf" stroke="#111" stroke-width="1.4"/><ellipse cx="129.8" cy="208.6" rx="1.6" ry="2.2" transform="rotate(40 129.8 208.6)" fill="#9a9a9a"/><ellipse cx="144.0" cy="210.4" rx="5.6" ry="4.2" transform="rotate(25 144 210.4)" fill="#d4d4d4" stroke="#111" stroke-width="1.4"/><ellipse cx="144.4" cy="210.6" rx="2.8" ry="1.8" transform="rotate(25 144.4 210.6)" fill="#9a9a9a"/><circle cx="144.6" cy="210.6" r="0.7" fill="#f0f0f0"/></g>
<text x="52.40" y="233.20" font-size="8.2" fill="#231f20" text-anchor="end" font-weight="bold" textLength="21.6" lengthAdjust="spacingAndGlyphs">CD45RA</text>
<line x1="54.80" y1="230.30" x2="159.00" y2="230.30" stroke="#231f20" stroke-width="0.8" />
<path d="M162.50,230.30 L159.62,228.95 L159.62,231.65 Z" stroke="none" stroke-width="1" fill="#231f20" />
<text x="20.80" y="224.60" font-size="8.28" fill="#231f20" font-weight="bold" textLength="13.4" lengthAdjust="spacingAndGlyphs" transform="rotate(-90 20.80 224.60)"><tspan>CD90</tspan></text>
<line x1="18.30" y1="206.30" x2="18.30" y2="185.00" stroke="#231f20" stroke-width="0.8" />
<path d="M18.30,182.30 L17.18,184.70 L19.43,184.70 Z" stroke="none" stroke-width="1" fill="#231f20" />
<text x="165.20" y="189.60" font-size="6.6" fill="#231f20" stroke="#231f20" stroke-width="0.22" textLength="153.8" lengthAdjust="spacingAndGlyphs"><tspan>HSC: CD34</tspan><tspan font-size="5.15" baseline-shift="2.77">+</tspan><tspan>CD38</tspan><tspan font-size="5.15" baseline-shift="2.77">&#8722;</tspan><tspan>CD133</tspan><tspan font-size="5.15" baseline-shift="2.77">+</tspan><tspan>CD45RA</tspan><tspan font-size="5.15" baseline-shift="2.77">&#8722;</tspan><tspan>CD90</tspan><tspan font-size="5.15" baseline-shift="2.77">+</tspan></text>
<text x="165.20" y="203.50" font-size="6.6" fill="#231f20" stroke="#231f20" stroke-width="0.22" textLength="152.2" lengthAdjust="spacingAndGlyphs"><tspan>MPP: CD34</tspan><tspan font-size="5.15" baseline-shift="2.77">+</tspan><tspan>CD38</tspan><tspan font-size="5.15" baseline-shift="2.77">&#8722;</tspan><tspan>CD133</tspan><tspan font-size="5.15" baseline-shift="2.77">+</tspan><tspan>CD45RA</tspan><tspan font-size="5.15" baseline-shift="2.77">&#8722;</tspan><tspan>CD90</tspan><tspan font-size="5.15" baseline-shift="2.77">&#8722;</tspan></text>
<text x="165.20" y="217.30" font-size="6.6" fill="#231f20" stroke="#231f20" stroke-width="0.22" textLength="156.8" lengthAdjust="spacingAndGlyphs"><tspan>LMPP: CD34</tspan><tspan font-size="5.15" baseline-shift="2.77">+</tspan><tspan>CD38</tspan><tspan font-size="5.15" baseline-shift="2.77">&#8722;</tspan><tspan>CD133</tspan><tspan font-size="5.15" baseline-shift="2.77">+</tspan><tspan>CD45RA</tspan><tspan font-size="5.15" baseline-shift="2.77">+</tspan><tspan>CD90</tspan><tspan font-size="5.15" baseline-shift="2.77">&#8722;</tspan></text>
<line x1="354.50" y1="170.50" x2="354.50" y2="246.70" stroke="#231f20" stroke-width="0.9" />
<line x1="354.00" y1="246.20" x2="445.40" y2="246.20" stroke="#231f20" stroke-width="0.9" />
<line x1="352.30" y1="246.20" x2="354.50" y2="246.20" stroke="#231f20" stroke-width="0.7" />
<text x="349.00" y="248.80" font-size="7.2" fill="#231f20" stroke="#231f20" stroke-width="0.2" text-anchor="end">0</text>
<line x1="352.30" y1="231.48" x2="354.50" y2="231.48" stroke="#231f20" stroke-width="0.7" />
<text x="349.00" y="234.08" font-size="7.2" fill="#231f20" stroke="#231f20" stroke-width="0.2" text-anchor="end">1</text>
<line x1="352.30" y1="216.76" x2="354.50" y2="216.76" stroke="#231f20" stroke-width="0.7" />
<text x="349.00" y="219.36" font-size="7.2" fill="#231f20" stroke="#231f20" stroke-width="0.2" text-anchor="end">2</text>
<line x1="352.30" y1="202.04" x2="354.50" y2="202.04" stroke="#231f20" stroke-width="0.7" />
<text x="349.00" y="204.64" font-size="7.2" fill="#231f20" stroke="#231f20" stroke-width="0.2" text-anchor="end">3</text>
<line x1="352.30" y1="187.32" x2="354.50" y2="187.32" stroke="#231f20" stroke-width="0.7" />
<text x="349.00" y="189.92" font-size="7.2" fill="#231f20" stroke="#231f20" stroke-width="0.2" text-anchor="end">4</text>
<line x1="352.30" y1="172.60" x2="354.50" y2="172.60" stroke="#231f20" stroke-width="0.7" />
<text x="349.00" y="175.20" font-size="7.2" fill="#231f20" stroke="#231f20" stroke-width="0.2" text-anchor="end">5</text>
<rect x="358.30" y="231.48" width="7.30" height="14.72" stroke="none" stroke-width="0" fill="#cdcdd2" />
<rect x="365.65" y="198.36" width="7.30" height="47.84" stroke="none" stroke-width="0" fill="#1c4f88" />
<line x1="369.30" y1="198.36" x2="369.30" y2="193.50" stroke="#231f20" stroke-width="0.7" />
<line x1="367.90" y1="193.50" x2="370.70" y2="193.50" stroke="#231f20" stroke-width="0.8" />
<rect x="373.00" y="221.18" width="7.30" height="25.02" stroke="none" stroke-width="0" fill="#f29b1a" />
<line x1="376.65" y1="221.18" x2="376.65" y2="212.64" stroke="#231f20" stroke-width="0.7" />
<line x1="375.25" y1="212.64" x2="378.05" y2="212.64" stroke="#231f20" stroke-width="0.8" />
<line x1="369.30" y1="246.20" x2="369.30" y2="248.60" stroke="#231f20" stroke-width="0.8" />
<circle cx="360.50" cy="230.68" r="0.65" fill="#444" />
<circle cx="363.40" cy="230.68" r="0.65" fill="#444" />
<rect x="388.50" y="231.48" width="7.30" height="14.72" stroke="none" stroke-width="0" fill="#cdcdd2" />
<rect x="395.85" y="225.15" width="7.30" height="21.05" stroke="none" stroke-width="0" fill="#1c4f88" />
<line x1="399.50" y1="225.15" x2="399.50" y2="217.94" stroke="#231f20" stroke-width="0.7" />
<line x1="398.10" y1="217.94" x2="400.90" y2="217.94" stroke="#231f20" stroke-width="0.8" />
<rect x="403.20" y="201.45" width="7.30" height="44.75" stroke="none" stroke-width="0" fill="#f29b1a" />
<line x1="406.85" y1="201.45" x2="406.85" y2="184.08" stroke="#231f20" stroke-width="0.7" />
<line x1="405.45" y1="184.08" x2="408.25" y2="184.08" stroke="#231f20" stroke-width="0.8" />
<line x1="399.50" y1="246.20" x2="399.50" y2="248.60" stroke="#231f20" stroke-width="0.8" />
<circle cx="390.70" cy="230.68" r="0.65" fill="#444" />
<circle cx="393.60" cy="230.68" r="0.65" fill="#444" />
<rect x="418.70" y="231.48" width="7.30" height="14.72" stroke="none" stroke-width="0" fill="#cdcdd2" />
<rect x="426.05" y="222.94" width="7.30" height="23.26" stroke="none" stroke-width="0" fill="#1c4f88" />
<line x1="429.70" y1="222.94" x2="429.70" y2="221.18" stroke="#231f20" stroke-width="0.7" />
<line x1="428.30" y1="221.18" x2="431.10" y2="221.18" stroke="#231f20" stroke-width="0.8" />
<rect x="433.40" y="241.78" width="7.30" height="4.42" stroke="none" stroke-width="0" fill="#f29b1a" />
<line x1="437.05" y1="241.78" x2="437.05" y2="240.02" stroke="#231f20" stroke-width="0.7" />
<line x1="435.65" y1="240.02" x2="438.45" y2="240.02" stroke="#231f20" stroke-width="0.8" />
<line x1="429.70" y1="246.20" x2="429.70" y2="248.60" stroke="#231f20" stroke-width="0.8" />
<circle cx="420.90" cy="230.68" r="0.65" fill="#444" />
<circle cx="423.80" cy="230.68" r="0.65" fill="#444" />
<circle cx="377.30" cy="214.55" r="0.6" fill="#333" />
<circle cx="377.30" cy="227.80" r="0.6" fill="#333" />
<circle cx="407.50" cy="188.79" r="0.6" fill="#333" />
<circle cx="407.50" cy="213.08" r="0.6" fill="#333" />
<circle cx="399.60" cy="221.91" r="0.6" fill="#333" />
<circle cx="369.60" cy="202.04" r="0.6" fill="#333" />
<text x="369.40" y="258.90" font-size="8.0" fill="#231f20" stroke="#231f20" stroke-width="0.2" text-anchor="middle">HSC</text>
<text x="399.40" y="258.90" font-size="8.0" fill="#231f20" stroke="#231f20" stroke-width="0.2" text-anchor="middle">MPP</text>
<text x="430.40" y="258.90" font-size="8.0" fill="#231f20" stroke="#231f20" stroke-width="0.2" text-anchor="middle">LMPP</text>
<text x="341.80" y="235.60" font-size="8.05" fill="#231f20" font-weight="bold" textLength="52" lengthAdjust="spacingAndGlyphs" transform="rotate(-90 341.80 235.60)"><tspan>FC %cells (to S-A)</tspan></text>
<line x1="444.40" y1="174.40" x2="452.00" y2="174.40" stroke="#c9c9cb" stroke-width="0.9" />
<circle cx="448.20" cy="174.40" r="1.3" fill="#c9c9cb" />
<text x="454.20" y="176.90" font-size="7.2" fill="#231f20" stroke="#231f20" stroke-width="0.2">S-A</text>
<line x1="444.40" y1="185.40" x2="452.00" y2="185.40" stroke="#1f4a7a" stroke-width="0.9" />
<circle cx="448.20" cy="185.40" r="1.3" fill="#1f4a7a" />
<text x="454.20" y="187.90" font-size="7.2" fill="#231f20" stroke="#231f20" stroke-width="0.2">S-R</text>
<line x1="444.40" y1="196.50" x2="452.00" y2="196.50" stroke="#f0a32e" stroke-width="0.9" />
<circle cx="448.20" cy="196.50" r="1.3" fill="#f0a32e" />
<text x="454.20" y="199.00" font-size="7.2" fill="#231f20" stroke="#231f20" stroke-width="0.2">S-S</text>
<line x1="37.50" y1="286.60" x2="37.50" y2="366.00" stroke="#231f20" stroke-width="1.0" />
<line x1="37.00" y1="365.50" x2="154.80" y2="365.50" stroke="#231f20" stroke-width="1.0" />
<line x1="37.30" y1="365.60" x2="37.30" y2="367.80" stroke="#231f20" stroke-width="0.7" />
<text x="37.30" y="378.20" font-size="7.4" fill="#231f20" stroke="#231f20" stroke-width="0.2" text-anchor="middle">0</text>
<line x1="65.90" y1="365.60" x2="65.90" y2="367.80" stroke="#231f20" stroke-width="0.7" />
<text x="65.90" y="378.20" font-size="7.4" fill="#231f20" stroke="#231f20" stroke-width="0.2" text-anchor="middle">2</text>
<line x1="94.50" y1="365.60" x2="94.50" y2="367.80" stroke="#231f20" stroke-width="0.7" />
<text x="94.50" y="378.20" font-size="7.4" fill="#231f20" stroke="#231f20" stroke-width="0.2" text-anchor="middle">4</text>
<line x1="123.10" y1="365.60" x2="123.10" y2="367.80" stroke="#231f20" stroke-width="0.7" />
<text x="123.10" y="378.20" font-size="7.4" fill="#231f20" stroke="#231f20" stroke-width="0.2" text-anchor="middle">6</text>
<line x1="151.70" y1="365.60" x2="151.70" y2="367.80" stroke="#231f20" stroke-width="0.7" />
<text x="151.70" y="378.20" font-size="7.4" fill="#231f20" stroke="#231f20" stroke-width="0.2" text-anchor="middle">8</text>
<line x1="35.10" y1="365.60" x2="37.30" y2="365.60" stroke="#231f20" stroke-width="0.7" />
<text x="30.70" y="368.30" font-size="7.4" fill="#231f20" stroke="#231f20" stroke-width="0.2" text-anchor="end">0.0</text>
<line x1="35.10" y1="346.35" x2="37.30" y2="346.35" stroke="#231f20" stroke-width="0.7" />
<text x="30.70" y="349.05" font-size="7.4" fill="#231f20" stroke="#231f20" stroke-width="0.2" text-anchor="end">0.5</text>
<line x1="35.10" y1="327.10" x2="37.30" y2="327.10" stroke="#231f20" stroke-width="0.7" />
<text x="30.70" y="329.80" font-size="7.4" fill="#231f20" stroke="#231f20" stroke-width="0.2" text-anchor="end">1.0</text>
<line x1="35.10" y1="307.85" x2="37.30" y2="307.85" stroke="#231f20" stroke-width="0.7" />
<text x="30.70" y="310.55" font-size="7.4" fill="#231f20" stroke="#231f20" stroke-width="0.2" text-anchor="end">1.5</text>
<line x1="35.10" y1="288.60" x2="37.30" y2="288.60" stroke="#231f20" stroke-width="0.7" />
<text x="30.70" y="291.30" font-size="7.4" fill="#231f20" stroke="#231f20" stroke-width="0.2" text-anchor="end">2.0</text>
<text x="95.20" y="281.20" font-size="9.9" fill="#231f20" stroke="#231f20" stroke-width="0.2" text-anchor="middle">HSC</text>
<text x="14.00" y="337.00" font-size="8.05" fill="#231f20" font-weight="bold" textLength="21.5" lengthAdjust="spacingAndGlyphs" transform="rotate(-90 14.00 337.00)"><tspan>%HSCs</tspan></text>
<text x="96.80" y="391.50" font-size="8.6" fill="#231f20" text-anchor="middle" font-weight="bold" textLength="14" lengthAdjust="spacingAndGlyphs">Days</text>
<line x1="65.90" y1="345.20" x2="65.90" y2="340.58" stroke="#606060" stroke-width="0.8" />
<line x1="64.50" y1="340.58" x2="67.30" y2="340.58" stroke="#606060" stroke-width="0.8" />
<line x1="108.80" y1="327.10" x2="108.80" y2="320.17" stroke="#606060" stroke-width="0.8" />
<line x1="107.40" y1="320.17" x2="110.20" y2="320.17" stroke="#606060" stroke-width="0.8" />
<line x1="137.40" y1="351.74" x2="137.40" y2="303.23" stroke="#606060" stroke-width="0.8" />
<line x1="136.00" y1="303.23" x2="138.80" y2="303.23" stroke="#606060" stroke-width="0.8" />
<line x1="137.40" y1="351.74" x2="137.40" y2="345.20" stroke="#777" stroke-width="0.8" />
<line x1="136.00" y1="345.20" x2="138.80" y2="345.20" stroke="#777" stroke-width="0.8" />
<line x1="108.80" y1="347.12" x2="108.80" y2="345.58" stroke="#999" stroke-width="0.8" />
<line x1="107.40" y1="345.58" x2="110.20" y2="345.58" stroke="#999" stroke-width="0.8" />
<polyline points="65.90,352.90 108.80,347.12 137.40,351.74" stroke="#c9c9cb" stroke-width="1.0" fill="none" stroke-linejoin="round" />
<circle cx="65.90" cy="352.90" r="1.4" fill="#c9c9cb" />
<circle cx="108.80" cy="347.12" r="1.4" fill="#c9c9cb" />
<circle cx="137.40" cy="351.74" r="1.4" fill="#c9c9cb" />
<polyline points="65.90,348.28 108.80,337.50 137.40,340.19" stroke="#f0a32e" stroke-width="1.0" fill="none" stroke-linejoin="round" />
<circle cx="65.90" cy="348.28" r="1.4" fill="#f0a32e" />
<circle cx="108.80" cy="337.50" r="1.4" fill="#f0a32e" />
<circle cx="137.40" cy="340.19" r="1.4" fill="#f0a32e" />
<polyline points="65.90,345.20 108.80,327.10 137.40,321.33" stroke="#1f4a7a" stroke-width="1.0" fill="none" stroke-linejoin="round" />
<circle cx="65.90" cy="345.20" r="1.4" fill="#1f4a7a" />
<circle cx="108.80" cy="327.10" r="1.4" fill="#1f4a7a" />
<circle cx="137.40" cy="321.33" r="1.4" fill="#1f4a7a" />
<line x1="143.60" y1="316.00" x2="143.60" y2="352.50" stroke="#9fb4cc" stroke-width="0.6" />
<line x1="142.60" y1="316.00" x2="143.60" y2="316.00" stroke="#9fb4cc" stroke-width="0.6" />
<line x1="142.60" y1="352.50" x2="143.60" y2="352.50" stroke="#9fb4cc" stroke-width="0.6" />
<line x1="143.00" y1="340.50" x2="143.00" y2="352.50" stroke="#e8c48a" stroke-width="0.6" />
<text x="146.00" y="320.20" font-size="5.2" fill="#3a6ea5" stroke="#3a6ea5" stroke-width="0.2">**</text>
<text x="145.40" y="326.40" font-size="6.0" fill="#3a6ea5" stroke="#3a6ea5" stroke-width="0.2" textLength="24" lengthAdjust="spacingAndGlyphs"><tspan font-style="italic">P</tspan> = .008</text>
<text x="145.40" y="349.60" font-size="6.0" fill="#f0b060" stroke="#f0b060" stroke-width="0.2" textLength="15.6" lengthAdjust="spacingAndGlyphs"><tspan font-style="italic">P</tspan> = .1</text>
<line x1="206.50" y1="286.60" x2="206.50" y2="366.00" stroke="#231f20" stroke-width="1.0" />
<line x1="206.00" y1="365.50" x2="323.50" y2="365.50" stroke="#231f20" stroke-width="1.0" />
<line x1="206.00" y1="365.60" x2="206.00" y2="367.80" stroke="#231f20" stroke-width="0.7" />
<text x="206.00" y="378.20" font-size="7.4" fill="#231f20" stroke="#231f20" stroke-width="0.2" text-anchor="middle">0</text>
<line x1="234.70" y1="365.60" x2="234.70" y2="367.80" stroke="#231f20" stroke-width="0.7" />
<text x="234.70" y="378.20" font-size="7.4" fill="#231f20" stroke="#231f20" stroke-width="0.2" text-anchor="middle">2</text>
<line x1="263.40" y1="365.60" x2="263.40" y2="367.80" stroke="#231f20" stroke-width="0.7" />
<text x="263.40" y="378.20" font-size="7.4" fill="#231f20" stroke="#231f20" stroke-width="0.2" text-anchor="middle">4</text>
<line x1="292.10" y1="365.60" x2="292.10" y2="367.80" stroke="#231f20" stroke-width="0.7" />
<text x="292.10" y="378.20" font-size="7.4" fill="#231f20" stroke="#231f20" stroke-width="0.2" text-anchor="middle">6</text>
<line x1="320.80" y1="365.60" x2="320.80" y2="367.80" stroke="#231f20" stroke-width="0.7" />
<text x="320.80" y="378.20" font-size="7.4" fill="#231f20" stroke="#231f20" stroke-width="0.2" text-anchor="middle">8</text>
<line x1="203.80" y1="365.60" x2="206.00" y2="365.60" stroke="#231f20" stroke-width="0.7" />
<text x="199.40" y="368.30" font-size="7.4" fill="#231f20" stroke="#231f20" stroke-width="0.2" text-anchor="end">0.0</text>
<line x1="203.80" y1="346.35" x2="206.00" y2="346.35" stroke="#231f20" stroke-width="0.7" />
<text x="199.40" y="349.05" font-size="7.4" fill="#231f20" stroke="#231f20" stroke-width="0.2" text-anchor="end">0.5</text>
<line x1="203.80" y1="327.10" x2="206.00" y2="327.10" stroke="#231f20" stroke-width="0.7" />
<text x="199.40" y="329.80" font-size="7.4" fill="#231f20" stroke="#231f20" stroke-width="0.2" text-anchor="end">1.0</text>
<line x1="203.80" y1="307.85" x2="206.00" y2="307.85" stroke="#231f20" stroke-width="0.7" />
<text x="199.40" y="310.55" font-size="7.4" fill="#231f20" stroke="#231f20" stroke-width="0.2" text-anchor="end">1.5</text>
<line x1="203.80" y1="288.60" x2="206.00" y2="288.60" stroke="#231f20" stroke-width="0.7" />
<text x="199.40" y="291.30" font-size="7.4" fill="#231f20" stroke="#231f20" stroke-width="0.2" text-anchor="end">2.0</text>
<text x="265.00" y="281.20" font-size="9.9" fill="#231f20" stroke="#231f20" stroke-width="0.2" text-anchor="middle">MPP</text>
<text x="184.50" y="340.00" font-size="8.05" fill="#231f20" font-weight="bold" textLength="26.5" lengthAdjust="spacingAndGlyphs" transform="rotate(-90 184.50 340.00)"><tspan>%MPPs</tspan></text>
<text x="265.00" y="391.50" font-size="8.6" fill="#231f20" text-anchor="middle" font-weight="bold" textLength="14" lengthAdjust="spacingAndGlyphs">Days</text>
<line x1="234.70" y1="323.25" x2="234.70" y2="306.70" stroke="#606060" stroke-width="0.8" />
<line x1="233.30" y1="306.70" x2="236.10" y2="306.70" stroke="#606060" stroke-width="0.8" />
<line x1="234.70" y1="341.35" x2="234.70" y2="337.88" stroke="#606060" stroke-width="0.8" />
<line x1="233.30" y1="337.88" x2="236.10" y2="337.88" stroke="#606060" stroke-width="0.8" />
<line x1="277.75" y1="337.11" x2="277.75" y2="328.25" stroke="#606060" stroke-width="0.8" />
<line x1="276.35" y1="328.25" x2="279.15" y2="328.25" stroke="#606060" stroke-width="0.8" />
<line x1="306.45" y1="335.96" x2="306.45" y2="325.18" stroke="#606060" stroke-width="0.8" />
<line x1="305.05" y1="325.18" x2="307.85" y2="325.18" stroke="#606060" stroke-width="0.8" />
<line x1="306.45" y1="350.97" x2="306.45" y2="347.50" stroke="#1f4a7a" stroke-width="0.8" />
<line x1="305.05" y1="347.50" x2="307.85" y2="347.50" stroke="#1f4a7a" stroke-width="0.8" />
<polyline points="234.70,341.35 277.75,358.29 306.45,356.36" stroke="#c9c9cb" stroke-width="1.0" fill="none" stroke-linejoin="round" />
<circle cx="234.70" cy="341.35" r="1.4" fill="#c9c9cb" />
<circle cx="277.75" cy="358.29" r="1.4" fill="#c9c9cb" />
<circle cx="306.45" cy="356.36" r="1.4" fill="#c9c9cb" />
<polyline points="234.70,323.25 277.75,337.11 306.45,335.96" stroke="#f0a32e" stroke-width="1.0" fill="none" stroke-linejoin="round" />
<circle cx="234.70" cy="323.25" r="1.4" fill="#f0a32e" />
<circle cx="277.75" cy="337.11" r="1.4" fill="#f0a32e" />
<circle cx="306.45" cy="335.96" r="1.4" fill="#f0a32e" />
<polyline points="234.70,322.48 277.75,347.12 306.45,350.97" stroke="#1f4a7a" stroke-width="1.0" fill="none" stroke-linejoin="round" />
<circle cx="234.70" cy="322.48" r="1.4" fill="#1f4a7a" />
<circle cx="277.75" cy="347.12" r="1.4" fill="#1f4a7a" />
<circle cx="306.45" cy="350.97" r="1.4" fill="#1f4a7a" />
<line x1="311.40" y1="335.96" x2="311.40" y2="356.36" stroke="#e8c48a" stroke-width="0.6" />
<line x1="312.60" y1="350.97" x2="312.60" y2="357.13" stroke="#9fb4cc" stroke-width="0.6" />
<text x="314.40" y="335.00" font-size="5.2" fill="#f0b060" stroke="#f0b060" stroke-width="0.2">**</text>
<text x="313.60" y="340.30" font-size="6.0" fill="#f0b060" stroke="#f0b060" stroke-width="0.2" textLength="24.5" lengthAdjust="spacingAndGlyphs"><tspan font-style="italic">P</tspan> = .002</text>
<text x="314.40" y="350.00" font-size="5.2" fill="#3a6ea5" stroke="#3a6ea5" stroke-width="0.2">*</text>
<text x="313.60" y="355.20" font-size="6.0" fill="#3a6ea5" stroke="#3a6ea5" stroke-width="0.2" textLength="24.5" lengthAdjust="spacingAndGlyphs"><tspan font-style="italic">P</tspan> = .030</text>
<line x1="368.50" y1="286.60" x2="368.50" y2="366.00" stroke="#231f20" stroke-width="1.0" />
<line x1="368.00" y1="365.50" x2="485.70" y2="365.50" stroke="#231f20" stroke-width="1.0" />
<line x1="368.20" y1="365.60" x2="368.20" y2="367.80" stroke="#231f20" stroke-width="0.7" />
<text x="368.20" y="378.20" font-size="7.4" fill="#231f20" stroke="#231f20" stroke-width="0.2" text-anchor="middle">0</text>
<line x1="397.00" y1="365.60" x2="397.00" y2="367.80" stroke="#231f20" stroke-width="0.7" />
<text x="397.00" y="378.20" font-size="7.4" fill="#231f20" stroke="#231f20" stroke-width="0.2" text-anchor="middle">2</text>
<line x1="425.80" y1="365.60" x2="425.80" y2="367.80" stroke="#231f20" stroke-width="0.7" />
<text x="425.80" y="378.20" font-size="7.4" fill="#231f20" stroke="#231f20" stroke-width="0.2" text-anchor="middle">4</text>
<line x1="454.60" y1="365.60" x2="454.60" y2="367.80" stroke="#231f20" stroke-width="0.7" />
<text x="454.60" y="378.20" font-size="7.4" fill="#231f20" stroke="#231f20" stroke-width="0.2" text-anchor="middle">6</text>
<line x1="483.40" y1="365.60" x2="483.40" y2="367.80" stroke="#231f20" stroke-width="0.7" />
<text x="483.40" y="378.20" font-size="7.4" fill="#231f20" stroke="#231f20" stroke-width="0.2" text-anchor="middle">8</text>
<line x1="366.00" y1="365.60" x2="368.20" y2="365.60" stroke="#231f20" stroke-width="0.7" />
<text x="361.60" y="368.30" font-size="7.4" fill="#231f20" stroke="#231f20" stroke-width="0.2" text-anchor="end">0</text>
<line x1="366.00" y1="346.36" x2="368.20" y2="346.36" stroke="#231f20" stroke-width="0.7" />
<text x="361.60" y="349.06" font-size="7.4" fill="#231f20" stroke="#231f20" stroke-width="0.2" text-anchor="end">2</text>
<line x1="366.00" y1="327.12" x2="368.20" y2="327.12" stroke="#231f20" stroke-width="0.7" />
<text x="361.60" y="329.82" font-size="7.4" fill="#231f20" stroke="#231f20" stroke-width="0.2" text-anchor="end">4</text>
<line x1="366.00" y1="307.88" x2="368.20" y2="307.88" stroke="#231f20" stroke-width="0.7" />
<text x="361.60" y="310.58" font-size="7.4" fill="#231f20" stroke="#231f20" stroke-width="0.2" text-anchor="end">6</text>
<line x1="366.00" y1="288.64" x2="368.20" y2="288.64" stroke="#231f20" stroke-width="0.7" />
<text x="361.60" y="291.34" font-size="7.4" fill="#231f20" stroke="#231f20" stroke-width="0.2" text-anchor="end">8</text>
<text x="427.90" y="281.20" font-size="9.9" fill="#231f20" stroke="#231f20" stroke-width="0.2" text-anchor="middle">LMPP</text>
<text x="351.50" y="339.00" font-size="8.05" fill="#231f20" font-weight="bold" textLength="26.3" lengthAdjust="spacingAndGlyphs" transform="rotate(-90 351.50 339.00)"><tspan>%LMPPs</tspan></text>
<text x="426.50" y="391.50" font-size="8.6" fill="#231f20" text-anchor="middle" font-weight="bold" textLength="14" lengthAdjust="spacingAndGlyphs">Days</text>
<line x1="397.00" y1="329.04" x2="397.00" y2="323.75" stroke="#606060" stroke-width="0.8" />
<line x1="395.60" y1="323.75" x2="398.40" y2="323.75" stroke="#606060" stroke-width="0.8" />
<line x1="397.00" y1="347.80" x2="397.00" y2="338.18" stroke="#606060" stroke-width="0.8" />
<line x1="395.60" y1="338.18" x2="398.40" y2="338.18" stroke="#606060" stroke-width="0.8" />
<line x1="440.20" y1="335.78" x2="440.20" y2="329.04" stroke="#606060" stroke-width="0.8" />
<line x1="438.80" y1="329.04" x2="441.60" y2="329.04" stroke="#606060" stroke-width="0.8" />
<line x1="469.00" y1="322.31" x2="469.00" y2="310.29" stroke="#606060" stroke-width="0.8" />
<line x1="467.60" y1="310.29" x2="470.40" y2="310.29" stroke="#606060" stroke-width="0.8" />
<line x1="469.00" y1="338.66" x2="469.00" y2="332.41" stroke="#606060" stroke-width="0.8" />
<line x1="467.60" y1="332.41" x2="470.40" y2="332.41" stroke="#606060" stroke-width="0.8" />
<polyline points="397.00,329.04 440.20,342.51 469.00,338.66" stroke="#c9c9cb" stroke-width="1.0" fill="none" stroke-linejoin="round" />
<circle cx="397.00" cy="329.04" r="1.4" fill="#c9c9cb" />
<circle cx="440.20" cy="342.51" r="1.4" fill="#c9c9cb" />
<circle cx="469.00" cy="338.66" r="1.4" fill="#c9c9cb" />
<polyline points="397.00,347.80 440.20,357.42 469.00,357.42" stroke="#f0a32e" stroke-width="1.0" fill="none" stroke-linejoin="round" />
<circle cx="397.00" cy="347.80" r="1.4" fill="#f0a32e" />
<circle cx="440.20" cy="357.42" r="1.4" fill="#f0a32e" />
<circle cx="469.00" cy="357.42" r="1.4" fill="#f0a32e" />
<polyline points="397.00,318.46 440.20,335.78 469.00,322.31" stroke="#1f4a7a" stroke-width="1.0" fill="none" stroke-linejoin="round" />
<circle cx="397.00" cy="318.46" r="1.4" fill="#1f4a7a" />
<circle cx="440.20" cy="335.78" r="1.4" fill="#1f4a7a" />
<circle cx="469.00" cy="322.31" r="1.4" fill="#1f4a7a" />
<line x1="474.00" y1="322.31" x2="474.00" y2="338.66" stroke="#9fb4cc" stroke-width="0.6" />
<line x1="472.60" y1="338.66" x2="472.60" y2="357.42" stroke="#e8c48a" stroke-width="0.6" />
<text x="475.80" y="323.60" font-size="5.2" fill="#3a6ea5" stroke="#3a6ea5" stroke-width="0.2">*</text>
<text x="475.00" y="329.00" font-size="6.0" fill="#3a6ea5" stroke="#3a6ea5" stroke-width="0.2" textLength="24.5" lengthAdjust="spacingAndGlyphs"><tspan font-style="italic">P</tspan> = .022</text>
<text x="475.80" y="351.60" font-size="5.2" fill="#f0b060" stroke="#f0b060" stroke-width="0.2">**</text>
<text x="475.00" y="356.90" font-size="6.0" fill="#f0b060" stroke="#f0b060" stroke-width="0.2" textLength="24" lengthAdjust="spacingAndGlyphs"><tspan font-style="italic">P</tspan> = .002</text>
<line x1="57.00" y1="404.20" x2="64.00" y2="404.20" stroke="#c9c9cb" stroke-width="1.0" />
<circle cx="60.50" cy="404.20" r="1.4" fill="#c9c9cb" />
<text x="66.80" y="406.90" font-size="7.5" fill="#231f20" stroke="#231f20" stroke-width="0.2">S-A</text>
<line x1="86.50" y1="404.20" x2="93.50" y2="404.20" stroke="#1f4a7a" stroke-width="1.0" />
<circle cx="90.00" cy="404.20" r="1.4" fill="#1f4a7a" />
<text x="95.80" y="406.90" font-size="7.5" fill="#231f20" stroke="#231f20" stroke-width="0.2">S-R</text>
<line x1="115.50" y1="404.20" x2="122.00" y2="404.20" stroke="#f0a32e" stroke-width="1.0" />
<circle cx="118.75" cy="404.20" r="1.4" fill="#f0a32e" />
<text x="124.60" y="406.90" font-size="7.5" fill="#231f20" stroke="#231f20" stroke-width="0.2">S-S</text>
<line x1="226.00" y1="404.20" x2="233.00" y2="404.20" stroke="#c9c9cb" stroke-width="1.0" />
<circle cx="229.50" cy="404.20" r="1.4" fill="#c9c9cb" />
<text x="235.80" y="406.90" font-size="7.5" fill="#231f20" stroke="#231f20" stroke-width="0.2">S-A</text>
<line x1="255.50" y1="404.20" x2="262.50" y2="404.20" stroke="#1f4a7a" stroke-width="1.0" />
<circle cx="259.00" cy="404.20" r="1.4" fill="#1f4a7a" />
<text x="264.80" y="406.90" font-size="7.5" fill="#231f20" stroke="#231f20" stroke-width="0.2">S-R</text>
<line x1="284.50" y1="404.20" x2="291.00" y2="404.20" stroke="#f0a32e" stroke-width="1.0" />
<circle cx="287.75" cy="404.20" r="1.4" fill="#f0a32e" />
<text x="293.60" y="406.90" font-size="7.5" fill="#231f20" stroke="#231f20" stroke-width="0.2">S-S</text>
<line x1="388.00" y1="404.20" x2="395.00" y2="404.20" stroke="#c9c9cb" stroke-width="1.0" />
<circle cx="391.50" cy="404.20" r="1.4" fill="#c9c9cb" />
<text x="397.80" y="406.90" font-size="7.5" fill="#231f20" stroke="#231f20" stroke-width="0.2">S-A</text>
<line x1="417.50" y1="404.20" x2="424.50" y2="404.20" stroke="#1f4a7a" stroke-width="1.0" />
<circle cx="421.00" cy="404.20" r="1.4" fill="#1f4a7a" />
<text x="426.80" y="406.90" font-size="7.5" fill="#231f20" stroke="#231f20" stroke-width="0.2">S-R</text>
<line x1="446.50" y1="404.20" x2="453.00" y2="404.20" stroke="#f0a32e" stroke-width="1.0" />
<circle cx="449.75" cy="404.20" r="1.4" fill="#f0a32e" />
<text x="455.60" y="406.90" font-size="7.5" fill="#231f20" stroke="#231f20" stroke-width="0.2">S-S</text>
<text x="30.20" y="428.40" font-size="9.95" fill="#231f20" stroke="#231f20" stroke-width="0.25" textLength="130" lengthAdjust="spacingAndGlyphs"><tspan>CD34</tspan><tspan font-size="6.96" baseline-shift="3.78">+</tspan><tspan>CD38</tspan><tspan font-size="6.96" baseline-shift="3.78">&#8722;</tspan><tspan>CD133</tspan><tspan font-size="6.96" baseline-shift="3.78">+</tspan><tspan> HSPCs</tspan></text>
<line x1="37.50" y1="435.50" x2="37.50" y2="514.00" stroke="#231f20" stroke-width="1.0" />
<line x1="37.00" y1="513.50" x2="155.50" y2="513.50" stroke="#231f20" stroke-width="1.0" />
<line x1="37.30" y1="513.10" x2="37.30" y2="515.30" stroke="#231f20" stroke-width="0.7" />
<text x="37.30" y="525.70" font-size="7.4" fill="#231f20" stroke="#231f20" stroke-width="0.2" text-anchor="middle">0</text>
<line x1="75.55" y1="513.10" x2="75.55" y2="515.30" stroke="#231f20" stroke-width="0.7" />
<text x="75.55" y="525.70" font-size="7.4" fill="#231f20" stroke="#231f20" stroke-width="0.2" text-anchor="middle">5</text>
<line x1="113.80" y1="513.10" x2="113.80" y2="515.30" stroke="#231f20" stroke-width="0.7" />
<text x="113.80" y="525.70" font-size="7.4" fill="#231f20" stroke="#231f20" stroke-width="0.2" text-anchor="middle">10</text>
<line x1="152.05" y1="513.10" x2="152.05" y2="515.30" stroke="#231f20" stroke-width="0.7" />
<text x="152.05" y="525.70" font-size="7.4" fill="#231f20" stroke="#231f20" stroke-width="0.2" text-anchor="middle">15</text>
<line x1="44.95" y1="513.10" x2="44.95" y2="514.40" stroke="#231f20" stroke-width="0.6" />
<line x1="52.60" y1="513.10" x2="52.60" y2="514.40" stroke="#231f20" stroke-width="0.6" />
<line x1="60.25" y1="513.10" x2="60.25" y2="514.40" stroke="#231f20" stroke-width="0.6" />
<line x1="67.90" y1="513.10" x2="67.90" y2="514.40" stroke="#231f20" stroke-width="0.6" />
<line x1="83.20" y1="513.10" x2="83.20" y2="514.40" stroke="#231f20" stroke-width="0.6" />
<line x1="90.85" y1="513.10" x2="90.85" y2="514.40" stroke="#231f20" stroke-width="0.6" />
<line x1="98.50" y1="513.10" x2="98.50" y2="514.40" stroke="#231f20" stroke-width="0.6" />
<line x1="106.15" y1="513.10" x2="106.15" y2="514.40" stroke="#231f20" stroke-width="0.6" />
<line x1="121.45" y1="513.10" x2="121.45" y2="514.40" stroke="#231f20" stroke-width="0.6" />
<line x1="129.10" y1="513.10" x2="129.10" y2="514.40" stroke="#231f20" stroke-width="0.6" />
<line x1="136.75" y1="513.10" x2="136.75" y2="514.40" stroke="#231f20" stroke-width="0.6" />
<line x1="144.40" y1="513.10" x2="144.40" y2="514.40" stroke="#231f20" stroke-width="0.6" />
<line x1="35.10" y1="513.10" x2="37.30" y2="513.10" stroke="#231f20" stroke-width="0.7" />
<text x="30.70" y="515.80" font-size="7.4" fill="#231f20" stroke="#231f20" stroke-width="0.2" text-anchor="end">0</text>
<line x1="35.10" y1="494.10" x2="37.30" y2="494.10" stroke="#231f20" stroke-width="0.7" />
<text x="30.70" y="496.80" font-size="7.4" fill="#231f20" stroke="#231f20" stroke-width="0.2" text-anchor="end">2</text>
<line x1="35.10" y1="475.10" x2="37.30" y2="475.10" stroke="#231f20" stroke-width="0.7" />
<text x="30.70" y="477.80" font-size="7.4" fill="#231f20" stroke="#231f20" stroke-width="0.2" text-anchor="end">4</text>
<line x1="35.10" y1="456.10" x2="37.30" y2="456.10" stroke="#231f20" stroke-width="0.7" />
<text x="30.70" y="458.80" font-size="7.4" fill="#231f20" stroke="#231f20" stroke-width="0.2" text-anchor="end">6</text>
<line x1="35.10" y1="437.10" x2="37.30" y2="437.10" stroke="#231f20" stroke-width="0.7" />
<text x="30.70" y="439.80" font-size="7.4" fill="#231f20" stroke="#231f20" stroke-width="0.2" text-anchor="end">8</text>
<text x="20.30" y="506.00" font-size="7.59" fill="#231f20" font-weight="bold" textLength="65.5" lengthAdjust="spacingAndGlyphs" transform="rotate(-90 20.30 506.00)"><tspan>%CD34</tspan><tspan font-size="5.31" baseline-shift="2.88">+</tspan><tspan>CD38</tspan><tspan font-size="5.31" baseline-shift="2.88">&#8722;</tspan><tspan>CD133</tspan><tspan font-size="5.31" baseline-shift="2.88">+</tspan></text>
<text x="96.90" y="539.60" font-size="8.6" fill="#231f20" text-anchor="middle" font-weight="bold" textLength="14" lengthAdjust="spacingAndGlyphs">Days</text>
<line x1="60.25" y1="490.30" x2="60.25" y2="452.30" stroke="#606060" stroke-width="0.8" />
<line x1="58.85" y1="452.30" x2="61.65" y2="452.30" stroke="#606060" stroke-width="0.8" />
<line x1="90.85" y1="495.53" x2="90.85" y2="460.85" stroke="#606060" stroke-width="0.8" />
<line x1="89.45" y1="460.85" x2="92.25" y2="460.85" stroke="#606060" stroke-width="0.8" />
<line x1="90.85" y1="495.53" x2="90.85" y2="477.00" stroke="#777" stroke-width="0.8" />
<line x1="89.45" y1="477.00" x2="92.25" y2="477.00" stroke="#777" stroke-width="0.8" />
<line x1="113.80" y1="502.65" x2="113.80" y2="497.90" stroke="#606060" stroke-width="0.8" />
<line x1="112.40" y1="497.90" x2="115.20" y2="497.90" stroke="#606060" stroke-width="0.8" />
<line x1="144.40" y1="496.48" x2="144.40" y2="480.33" stroke="#606060" stroke-width="0.8" />
<line x1="143.00" y1="480.33" x2="145.80" y2="480.33" stroke="#606060" stroke-width="0.8" />
<line x1="144.40" y1="501.23" x2="144.40" y2="493.15" stroke="#777" stroke-width="0.8" />
<line x1="143.00" y1="493.15" x2="145.80" y2="493.15" stroke="#777" stroke-width="0.8" />
<polyline points="60.25,490.30 90.85,491.25" stroke="#d0d0d0" stroke-width="0.9" fill="none" stroke-linejoin="round" />
<polyline points="60.25,475.10 90.85,491.25 113.80,504.08 144.40,501.23" stroke="#b8dcb0" stroke-width="0.9" fill="none" stroke-linejoin="round" />
<circle cx="60.25" cy="475.10" r="1.0" fill="#b8dcb0" />
<circle cx="90.85" cy="491.25" r="1.0" fill="#b8dcb0" />
<circle cx="113.80" cy="504.08" r="1.0" fill="#b8dcb0" />
<circle cx="144.40" cy="501.23" r="1.0" fill="#b8dcb0" />
<polyline points="60.25,473.68 90.85,495.53 113.80,502.65 144.40,496.48" stroke="#55b055" stroke-width="1.0" fill="none" stroke-linejoin="round" />
<circle cx="60.25" cy="473.68" r="1.4" fill="#55b055" />
<circle cx="90.85" cy="495.53" r="1.4" fill="#55b055" />
<circle cx="113.80" cy="502.65" r="1.4" fill="#55b055" />
<circle cx="144.40" cy="496.48" r="1.4" fill="#55b055" />
<line x1="146.50" y1="496.48" x2="146.50" y2="501.23" stroke="#9fd09f" stroke-width="0.6" />
<text x="150.50" y="504.90" font-size="5.5" fill="#7cc47c" stroke="#7cc47c" stroke-width="0.2">ns</text>
<line x1="72.70" y1="550.60" x2="79.60" y2="550.60" stroke="#c9c9cb" stroke-width="1.0" />
<circle cx="76.15" cy="550.60" r="1.4" fill="#c9c9cb" />
<text x="83.00" y="553.30" font-size="7.5" fill="#231f20" stroke="#231f20" stroke-width="0.2">S-A</text>
<line x1="100.00" y1="550.60" x2="109.00" y2="550.60" stroke="#55b055" stroke-width="1.0" />
<circle cx="104.50" cy="550.60" r="1.4" fill="#55b055" />
<text x="111.40" y="553.30" font-size="7.5" fill="#231f20" stroke="#231f20" stroke-width="0.2">S-T</text>
<text x="199.40" y="427.80" font-size="9.95" fill="#231f20" stroke="#231f20" stroke-width="0.25" textLength="128.2" lengthAdjust="spacingAndGlyphs"><tspan>CD34</tspan><tspan font-size="6.96" baseline-shift="3.78">+</tspan><tspan>CD38</tspan><tspan font-size="6.96" baseline-shift="3.78">&#8722;</tspan><tspan>CD133</tspan><tspan font-size="6.96" baseline-shift="3.78">&#8722;</tspan><tspan> HSPCs</tspan></text>
<line x1="205.50" y1="435.00" x2="205.50" y2="514.00" stroke="#231f20" stroke-width="1.0" />
<line x1="205.00" y1="513.50" x2="324.50" y2="513.50" stroke="#231f20" stroke-width="1.0" />
<line x1="205.80" y1="513.10" x2="205.80" y2="515.30" stroke="#231f20" stroke-width="0.7" />
<text x="205.80" y="525.70" font-size="7.4" fill="#231f20" stroke="#231f20" stroke-width="0.2" text-anchor="middle">0</text>
<line x1="244.05" y1="513.10" x2="244.05" y2="515.30" stroke="#231f20" stroke-width="0.7" />
<text x="244.05" y="525.70" font-size="7.4" fill="#231f20" stroke="#231f20" stroke-width="0.2" text-anchor="middle">5</text>
<line x1="282.30" y1="513.10" x2="282.30" y2="515.30" stroke="#231f20" stroke-width="0.7" />
<text x="282.30" y="525.70" font-size="7.4" fill="#231f20" stroke="#231f20" stroke-width="0.2" text-anchor="middle">10</text>
<line x1="320.55" y1="513.10" x2="320.55" y2="515.30" stroke="#231f20" stroke-width="0.7" />
<text x="320.55" y="525.70" font-size="7.4" fill="#231f20" stroke="#231f20" stroke-width="0.2" text-anchor="middle">15</text>
<line x1="213.45" y1="513.10" x2="213.45" y2="514.40" stroke="#231f20" stroke-width="0.6" />
<line x1="221.10" y1="513.10" x2="221.10" y2="514.40" stroke="#231f20" stroke-width="0.6" />
<line x1="228.75" y1="513.10" x2="228.75" y2="514.40" stroke="#231f20" stroke-width="0.6" />
<line x1="236.40" y1="513.10" x2="236.40" y2="514.40" stroke="#231f20" stroke-width="0.6" />
<line x1="251.70" y1="513.10" x2="251.70" y2="514.40" stroke="#231f20" stroke-width="0.6" />
<line x1="259.35" y1="513.10" x2="259.35" y2="514.40" stroke="#231f20" stroke-width="0.6" />
<line x1="267.00" y1="513.10" x2="267.00" y2="514.40" stroke="#231f20" stroke-width="0.6" />
<line x1="274.65" y1="513.10" x2="274.65" y2="514.40" stroke="#231f20" stroke-width="0.6" />
<line x1="289.95" y1="513.10" x2="289.95" y2="514.40" stroke="#231f20" stroke-width="0.6" />
<line x1="297.60" y1="513.10" x2="297.60" y2="514.40" stroke="#231f20" stroke-width="0.6" />
<line x1="305.25" y1="513.10" x2="305.25" y2="514.40" stroke="#231f20" stroke-width="0.6" />
<line x1="312.90" y1="513.10" x2="312.90" y2="514.40" stroke="#231f20" stroke-width="0.6" />
<line x1="203.60" y1="513.10" x2="205.80" y2="513.10" stroke="#231f20" stroke-width="0.7" />
<text x="199.20" y="515.80" font-size="7.4" fill="#231f20" stroke="#231f20" stroke-width="0.2" text-anchor="end">0</text>
<line x1="203.60" y1="497.85" x2="205.80" y2="497.85" stroke="#231f20" stroke-width="0.7" />
<text x="199.20" y="500.55" font-size="7.4" fill="#231f20" stroke="#231f20" stroke-width="0.2" text-anchor="end">5</text>
<line x1="203.60" y1="482.60" x2="205.80" y2="482.60" stroke="#231f20" stroke-width="0.7" />
<text x="199.20" y="485.30" font-size="7.4" fill="#231f20" stroke="#231f20" stroke-width="0.2" text-anchor="end">10</text>
<line x1="203.60" y1="467.35" x2="205.80" y2="467.35" stroke="#231f20" stroke-width="0.7" />
<text x="199.20" y="470.05" font-size="7.4" fill="#231f20" stroke="#231f20" stroke-width="0.2" text-anchor="end">15</text>
<line x1="203.60" y1="452.10" x2="205.80" y2="452.10" stroke="#231f20" stroke-width="0.7" />
<text x="199.20" y="454.80" font-size="7.4" fill="#231f20" stroke="#231f20" stroke-width="0.2" text-anchor="end">20</text>
<line x1="203.60" y1="436.85" x2="205.80" y2="436.85" stroke="#231f20" stroke-width="0.7" />
<text x="199.20" y="439.55" font-size="7.4" fill="#231f20" stroke="#231f20" stroke-width="0.2" text-anchor="end">25</text>
<text x="186.60" y="506.60" font-size="7.59" fill="#231f20" font-weight="bold" textLength="65.4" lengthAdjust="spacingAndGlyphs" transform="rotate(-90 186.60 506.60)"><tspan>%CD34</tspan><tspan font-size="5.31" baseline-shift="2.88">+</tspan><tspan>CD38</tspan><tspan font-size="5.31" baseline-shift="2.88">&#8722;</tspan><tspan>CD133</tspan><tspan font-size="5.31" baseline-shift="2.88">&#8722;</tspan></text>
<text x="265.00" y="539.60" font-size="8.6" fill="#231f20" text-anchor="middle" font-weight="bold" textLength="14" lengthAdjust="spacingAndGlyphs">Days</text>
<line x1="228.75" y1="471.01" x2="228.75" y2="460.64" stroke="#606060" stroke-width="0.8" />
<line x1="227.35" y1="460.64" x2="230.15" y2="460.64" stroke="#606060" stroke-width="0.8" />
<line x1="259.35" y1="469.79" x2="259.35" y2="452.71" stroke="#606060" stroke-width="0.8" />
<line x1="257.95" y1="452.71" x2="260.75" y2="452.71" stroke="#606060" stroke-width="0.8" />
<line x1="282.30" y1="494.19" x2="282.30" y2="477.11" stroke="#606060" stroke-width="0.8" />
<line x1="280.90" y1="477.11" x2="283.70" y2="477.11" stroke="#606060" stroke-width="0.8" />
<line x1="312.90" y1="504.25" x2="312.90" y2="490.23" stroke="#606060" stroke-width="0.8" />
<line x1="311.50" y1="490.23" x2="314.30" y2="490.23" stroke="#606060" stroke-width="0.8" />
<line x1="228.75" y1="472.54" x2="228.75" y2="462.78" stroke="#777" stroke-width="0.8" />
<line x1="227.35" y1="462.78" x2="230.15" y2="462.78" stroke="#777" stroke-width="0.8" />
<line x1="259.35" y1="471.01" x2="259.35" y2="458.20" stroke="#777" stroke-width="0.8" />
<line x1="257.95" y1="458.20" x2="260.75" y2="458.20" stroke="#777" stroke-width="0.8" />
<line x1="282.30" y1="493.28" x2="282.30" y2="481.69" stroke="#777" stroke-width="0.8" />
<line x1="280.90" y1="481.69" x2="283.70" y2="481.69" stroke="#777" stroke-width="0.8" />
<polyline points="228.75,472.54 259.35,471.01 282.30,493.28 312.90,500.90" stroke="#b8dcb0" stroke-width="0.9" fill="none" stroke-linejoin="round" />
<circle cx="228.75" cy="472.54" r="1.0" fill="#b8dcb0" />
<circle cx="259.35" cy="471.01" r="1.0" fill="#b8dcb0" />
<circle cx="282.30" cy="493.28" r="1.0" fill="#b8dcb0" />
<circle cx="312.90" cy="500.90" r="1.0" fill="#b8dcb0" />
<polyline points="228.75,471.01 259.35,469.79 282.30,494.19 312.90,504.25" stroke="#55b055" stroke-width="1.0" fill="none" stroke-linejoin="round" />
<circle cx="228.75" cy="471.01" r="1.4" fill="#55b055" />
<circle cx="259.35" cy="469.79" r="1.4" fill="#55b055" />
<circle cx="282.30" cy="494.19" r="1.4" fill="#55b055" />
<circle cx="312.90" cy="504.25" r="1.4" fill="#55b055" />
<text x="315.00" y="505.50" font-size="5.5" fill="#7cc47c" stroke="#7cc47c" stroke-width="0.2">ns</text>
<line x1="313.60" y1="500.90" x2="313.60" y2="504.25" stroke="#9fd09f" stroke-width="0.6" />
<line x1="242.00" y1="551.00" x2="248.50" y2="551.00" stroke="#c9c9cb" stroke-width="1.0" />
<circle cx="245.25" cy="551.00" r="1.4" fill="#c9c9cb" />
<text x="250.60" y="553.70" font-size="7.5" fill="#231f20" stroke="#231f20" stroke-width="0.2">S-A</text>
<line x1="269.30" y1="551.00" x2="277.00" y2="551.00" stroke="#55b055" stroke-width="1.0" />
<circle cx="273.15" cy="551.00" r="1.4" fill="#55b055" />
<text x="279.40" y="553.70" font-size="7.5" fill="#231f20" stroke="#231f20" stroke-width="0.2">S-T</text>
<text x="376.60" y="427.80" font-size="9.95" fill="#231f20" stroke="#231f20" stroke-width="0.25" textLength="99.4" lengthAdjust="spacingAndGlyphs"><tspan>CD34</tspan><tspan font-size="6.96" baseline-shift="3.78">+</tspan><tspan>CD133</tspan><tspan font-size="6.96" baseline-shift="3.78">+</tspan><tspan> HSPCs</tspan></text>
<line x1="368.50" y1="435.00" x2="368.50" y2="514.00" stroke="#231f20" stroke-width="1.0" />
<line x1="368.00" y1="513.50" x2="497.00" y2="513.50" stroke="#231f20" stroke-width="1.0" />
<line x1="368.00" y1="513.10" x2="368.00" y2="515.30" stroke="#231f20" stroke-width="0.7" />
<text x="368.00" y="525.70" font-size="7.4" fill="#231f20" stroke="#231f20" stroke-width="0.2" text-anchor="middle">0</text>
<line x1="416.25" y1="513.10" x2="416.25" y2="515.30" stroke="#231f20" stroke-width="0.7" />
<text x="416.25" y="525.70" font-size="7.4" fill="#231f20" stroke="#231f20" stroke-width="0.2" text-anchor="middle">5</text>
<line x1="464.50" y1="513.10" x2="464.50" y2="515.30" stroke="#231f20" stroke-width="0.7" />
<text x="464.50" y="525.70" font-size="7.4" fill="#231f20" stroke="#231f20" stroke-width="0.2" text-anchor="middle">10</text>
<line x1="377.65" y1="513.10" x2="377.65" y2="514.40" stroke="#231f20" stroke-width="0.6" />
<line x1="387.30" y1="513.10" x2="387.30" y2="514.40" stroke="#231f20" stroke-width="0.6" />
<line x1="396.95" y1="513.10" x2="396.95" y2="514.40" stroke="#231f20" stroke-width="0.6" />
<line x1="406.60" y1="513.10" x2="406.60" y2="514.40" stroke="#231f20" stroke-width="0.6" />
<line x1="425.90" y1="513.10" x2="425.90" y2="514.40" stroke="#231f20" stroke-width="0.6" />
<line x1="435.55" y1="513.10" x2="435.55" y2="514.40" stroke="#231f20" stroke-width="0.6" />
<line x1="445.20" y1="513.10" x2="445.20" y2="514.40" stroke="#231f20" stroke-width="0.6" />
<line x1="454.85" y1="513.10" x2="454.85" y2="514.40" stroke="#231f20" stroke-width="0.6" />
<line x1="474.15" y1="513.10" x2="474.15" y2="514.40" stroke="#231f20" stroke-width="0.6" />
<line x1="365.80" y1="513.10" x2="368.00" y2="513.10" stroke="#231f20" stroke-width="0.7" />
<text x="361.40" y="515.80" font-size="7.4" fill="#231f20" stroke="#231f20" stroke-width="0.2" text-anchor="end">0</text>
<line x1="365.80" y1="497.85" x2="368.00" y2="497.85" stroke="#231f20" stroke-width="0.7" />
<text x="361.40" y="500.55" font-size="7.4" fill="#231f20" stroke="#231f20" stroke-width="0.2" text-anchor="end">5</text>
<line x1="365.80" y1="482.60" x2="368.00" y2="482.60" stroke="#231f20" stroke-width="0.7" />
<text x="361.40" y="485.30" font-size="7.4" fill="#231f20" stroke="#231f20" stroke-width="0.2" text-anchor="end">10</text>
<line x1="365.80" y1="467.35" x2="368.00" y2="467.35" stroke="#231f20" stroke-width="0.7" />
<text x="361.40" y="470.05" font-size="7.4" fill="#231f20" stroke="#231f20" stroke-width="0.2" text-anchor="end">15</text>
<line x1="365.80" y1="452.10" x2="368.00" y2="452.10" stroke="#231f20" stroke-width="0.7" />
<text x="361.40" y="454.80" font-size="7.4" fill="#231f20" stroke="#231f20" stroke-width="0.2" text-anchor="end">20</text>
<line x1="365.80" y1="436.85" x2="368.00" y2="436.85" stroke="#231f20" stroke-width="0.7" />
<text x="361.40" y="439.55" font-size="7.4" fill="#231f20" stroke="#231f20" stroke-width="0.2" text-anchor="end">25</text>
<text x="347.60" y="497.00" font-size="7.59" fill="#231f20" font-weight="bold" textLength="44" lengthAdjust="spacingAndGlyphs" transform="rotate(-90 347.60 497.00)"><tspan>%CD34</tspan><tspan font-size="5.31" baseline-shift="2.88">+</tspan><tspan>CD133</tspan><tspan font-size="5.31" baseline-shift="2.88">+</tspan></text>
<text x="426.40" y="539.60" font-size="8.6" fill="#231f20" text-anchor="middle" font-weight="bold" textLength="14" lengthAdjust="spacingAndGlyphs">Days</text>
<line x1="396.95" y1="467.96" x2="396.95" y2="447.53" stroke="#606060" stroke-width="0.8" />
<line x1="395.55" y1="447.53" x2="398.35" y2="447.53" stroke="#606060" stroke-width="0.8" />
<line x1="435.55" y1="478.94" x2="435.55" y2="458.51" stroke="#606060" stroke-width="0.8" />
<line x1="434.15" y1="458.51" x2="436.95" y2="458.51" stroke="#606060" stroke-width="0.8" />
<line x1="464.50" y1="482.30" x2="464.50" y2="475.59" stroke="#606060" stroke-width="0.8" />
<line x1="463.10" y1="475.59" x2="465.90" y2="475.59" stroke="#606060" stroke-width="0.8" />
<line x1="396.95" y1="480.77" x2="396.95" y2="474.37" stroke="#777" stroke-width="0.8" />
<line x1="395.55" y1="474.37" x2="398.35" y2="474.37" stroke="#777" stroke-width="0.8" />
<line x1="464.50" y1="496.02" x2="464.50" y2="490.23" stroke="#777" stroke-width="0.8" />
<line x1="463.10" y1="490.23" x2="465.90" y2="490.23" stroke="#777" stroke-width="0.8" />
<line x1="396.95" y1="488.70" x2="396.95" y2="485.65" stroke="#777" stroke-width="0.8" />
<line x1="395.55" y1="485.65" x2="398.35" y2="485.65" stroke="#777" stroke-width="0.8" />
<line x1="435.55" y1="499.68" x2="435.55" y2="497.85" stroke="#777" stroke-width="0.8" />
<line x1="434.15" y1="497.85" x2="436.95" y2="497.85" stroke="#777" stroke-width="0.8" />
<line x1="464.50" y1="499.68" x2="464.50" y2="497.85" stroke="#777" stroke-width="0.8" />
<line x1="463.10" y1="497.85" x2="465.90" y2="497.85" stroke="#777" stroke-width="0.8" />
<polyline points="396.95,492.36 435.55,501.81 464.50,502.43" stroke="#c9c9cb" stroke-width="1.0" fill="none" stroke-linejoin="round" />
<circle cx="396.95" cy="492.36" r="1.4" fill="#c9c9cb" />
<circle cx="435.55" cy="501.81" r="1.4" fill="#c9c9cb" />
<circle cx="464.50" cy="502.43" r="1.4" fill="#c9c9cb" />
<polyline points="396.95,488.70 435.55,499.68 464.50,499.68" stroke="#1f5a4a" stroke-width="1.0" fill="none" stroke-linejoin="round" />
<circle cx="396.95" cy="488.70" r="1.4" fill="#1f5a4a" />
<circle cx="435.55" cy="499.68" r="1.4" fill="#1f5a4a" />
<circle cx="464.50" cy="499.68" r="1.4" fill="#1f5a4a" />
<polyline points="396.95,480.77 435.55,490.23 464.50,496.02" stroke="#3fb3de" stroke-width="1.0" fill="none" stroke-linejoin="round" />
<circle cx="396.95" cy="480.77" r="1.4" fill="#3fb3de" />
<circle cx="435.55" cy="490.23" r="1.4" fill="#3fb3de" />
<circle cx="464.50" cy="496.02" r="1.4" fill="#3fb3de" />
<polyline points="396.95,467.96 435.55,478.94 464.50,482.30" stroke="#66306e" stroke-width="1.0" fill="none" stroke-linejoin="round" />
<circle cx="396.95" cy="467.96" r="1.4" fill="#66306e" />
<circle cx="435.55" cy="478.94" r="1.4" fill="#66306e" />
<circle cx="464.50" cy="482.30" r="1.4" fill="#66306e" />
<line x1="471.00" y1="482.30" x2="471.00" y2="502.43" stroke="#c9b3d0" stroke-width="0.6" stroke-dasharray="1 1"/>
<line x1="473.00" y1="496.02" x2="473.00" y2="502.43" stroke="#9fd6ea" stroke-width="0.6" stroke-dasharray="1 1"/>
<line x1="475.00" y1="478.03" x2="475.00" y2="502.43" stroke="#d6d6d6" stroke-width="0.6" stroke-dasharray="1 1"/>
<text x="476.80" y="482.00" font-size="6.0" fill="#c0c0c0" stroke="#c0c0c0" stroke-width="0.2" textLength="24" lengthAdjust="spacingAndGlyphs"><tspan font-style="italic">P</tspan> = .077</text>
<text x="476.00" y="487.20" font-size="5.2" fill="#66306e" stroke="#66306e" stroke-width="0.2">***</text>
<text x="476.80" y="491.50" font-size="6.0" fill="#3d2a48" stroke="#3d2a48" stroke-width="0.2" textLength="24" lengthAdjust="spacingAndGlyphs"><tspan font-style="italic">P</tspan> = .001</text>
<text x="476.40" y="496.20" font-size="5.2" fill="#3fb3de" stroke="#3fb3de" stroke-width="0.2">*</text>
<text x="476.80" y="500.70" font-size="6.0" fill="#3fb3de" stroke="#3fb3de" stroke-width="0.2" textLength="24" lengthAdjust="spacingAndGlyphs"><tspan font-style="italic">P</tspan> = .047</text>
<text x="476.80" y="505.60" font-size="5.5" fill="#1f5a4a" stroke="#1f5a4a" stroke-width="0.2">ns</text>
<line x1="364.40" y1="551.10" x2="371.60" y2="551.10" stroke="#c9c9cb" stroke-width="1.0" />
<circle cx="368.00" cy="551.10" r="1.4" fill="#c9c9cb" />
<text x="374.50" y="553.80" font-size="7.5" fill="#231f20" stroke="#231f20" stroke-width="0.2">S-A</text>
<line x1="393.20" y1="551.10" x2="401.90" y2="551.10" stroke="#1f5a4a" stroke-width="1.0" />
<circle cx="397.55" cy="551.10" r="1.4" fill="#1f5a4a" />
<text x="404.80" y="553.80" font-size="7.5" fill="#231f20" stroke="#231f20" stroke-width="0.2">S-A-T</text>
<line x1="426.40" y1="551.10" x2="435.00" y2="551.10" stroke="#3fb3de" stroke-width="1.0" />
<circle cx="430.70" cy="551.10" r="1.4" fill="#3fb3de" />
<text x="437.30" y="553.80" font-size="7.5" fill="#231f20" stroke="#231f20" stroke-width="0.2">S-A-R</text>
<line x1="461.00" y1="551.10" x2="469.60" y2="551.10" stroke="#66306e" stroke-width="1.0" />
<circle cx="465.30" cy="551.10" r="1.4" fill="#66306e" />
<text x="472.50" y="553.80" font-size="7.5" fill="#231f20" stroke="#231f20" stroke-width="0.2">S-R-T</text>
</svg></body></html>
